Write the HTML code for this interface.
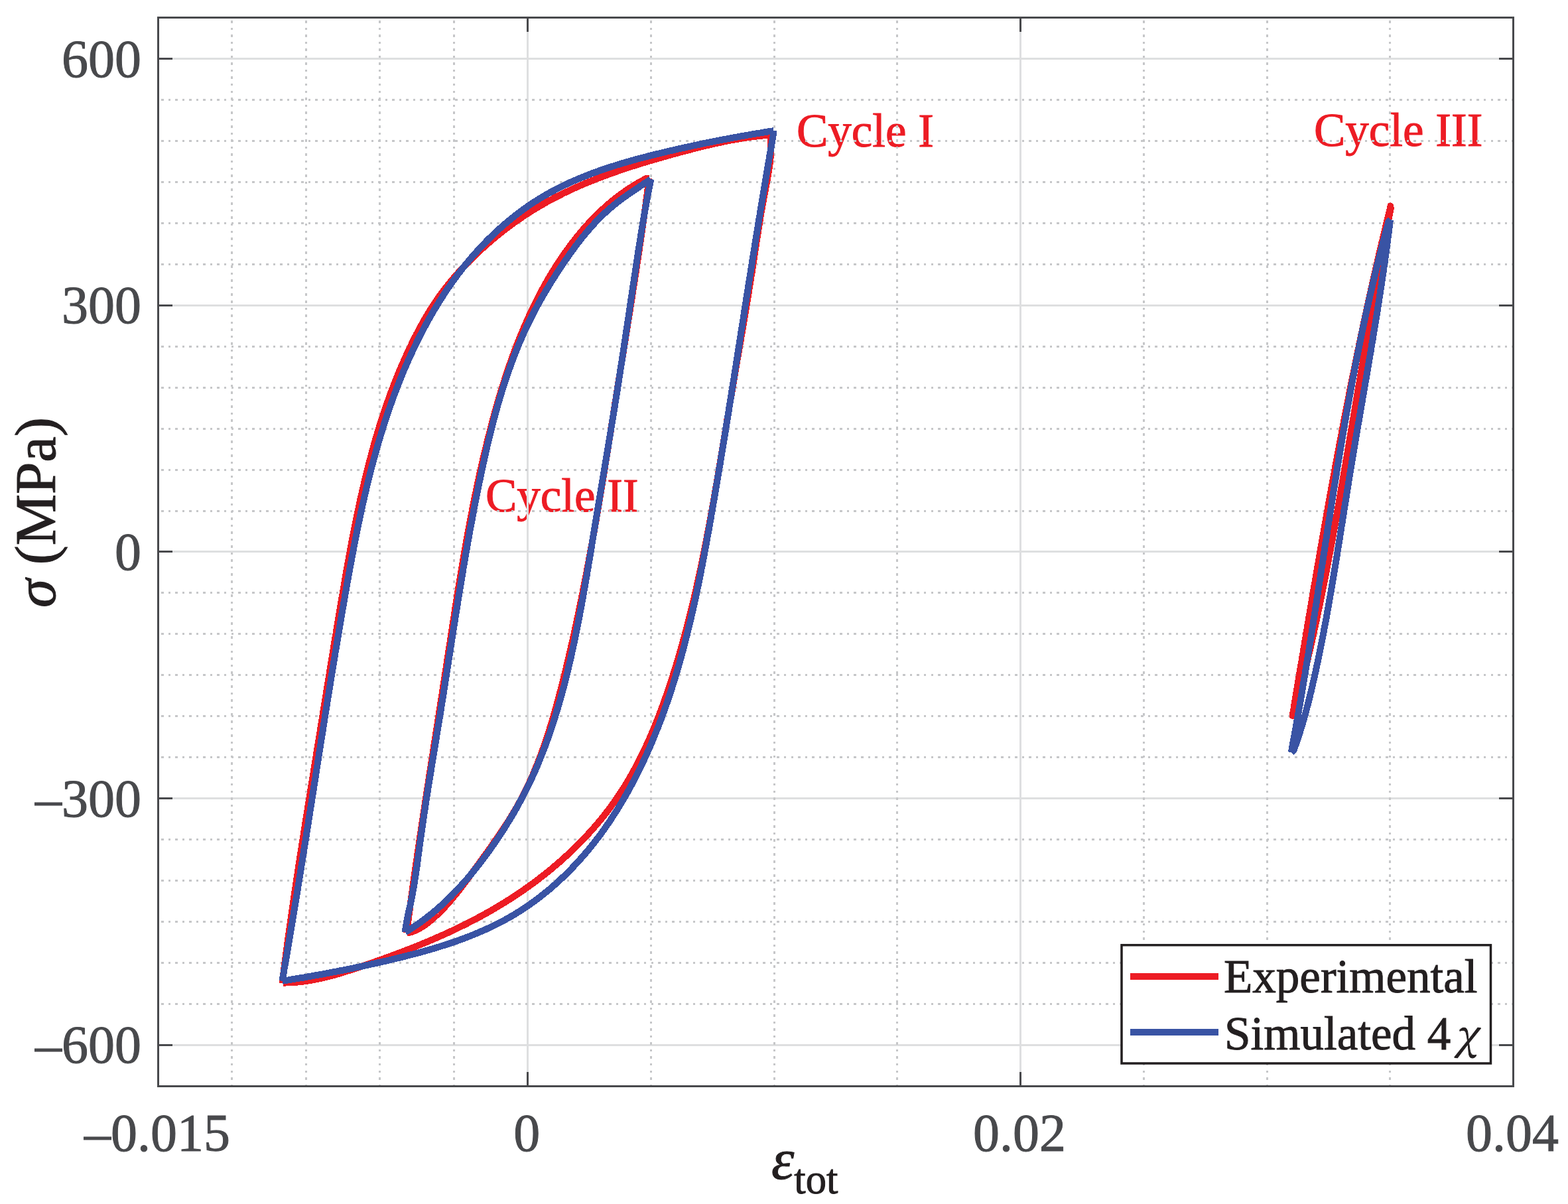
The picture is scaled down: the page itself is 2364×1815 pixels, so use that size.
<!DOCTYPE html>
<html><head><meta charset="utf-8"><title>Hysteresis loops</title>
<style>html,body{margin:0;padding:0;background:#fff;}svg{display:block;}</style>
</head><body><svg xmlns="http://www.w3.org/2000/svg" width="2364" height="1815" viewBox="0 0 2364 1815"><rect x="0" y="0" width="2364" height="1815" fill="#ffffff"/><g font-family="'Liberation Serif', 'Times New Roman', serif" stroke="#ed1c24" stroke-width="1.0"><text x="1201" y="220.8" font-size="71" fill="#ed1c24">Cycle I</text><text x="732" y="770.5" font-size="71" fill="#ed1c24">Cycle II</text><text x="1981" y="220.4" font-size="71" fill="#ed1c24">Cycle III</text></g><g shape-rendering="crispEdges"><line x1="240.0" y1="1575.40" x2="2280.0" y2="1575.40" stroke="#dedfe0" stroke-width="3"/><line x1="240.0" y1="1203.67" x2="2280.0" y2="1203.67" stroke="#dedfe0" stroke-width="3"/><line x1="240.0" y1="831.95" x2="2280.0" y2="831.95" stroke="#dedfe0" stroke-width="3"/><line x1="240.0" y1="460.23" x2="2280.0" y2="460.23" stroke="#dedfe0" stroke-width="3"/><line x1="240.0" y1="88.50" x2="2280.0" y2="88.50" stroke="#dedfe0" stroke-width="3"/><line x1="795.68" y1="28.0" x2="795.68" y2="1636.0" stroke="#dedfe0" stroke-width="3"/><line x1="1538.59" y1="28.0" x2="1538.59" y2="1636.0" stroke="#dedfe0" stroke-width="3"/><line x1="243.0" y1="1513.45" x2="2280.0" y2="1513.45" stroke="#c6c7c9" stroke-width="3" stroke-dasharray="3.5 7.05"/><line x1="243.0" y1="1451.49" x2="2280.0" y2="1451.49" stroke="#c6c7c9" stroke-width="3" stroke-dasharray="3.5 7.05"/><line x1="243.0" y1="1389.54" x2="2280.0" y2="1389.54" stroke="#c6c7c9" stroke-width="3" stroke-dasharray="3.5 7.05"/><line x1="243.0" y1="1327.58" x2="2280.0" y2="1327.58" stroke="#c6c7c9" stroke-width="3" stroke-dasharray="3.5 7.05"/><line x1="243.0" y1="1265.63" x2="2280.0" y2="1265.63" stroke="#c6c7c9" stroke-width="3" stroke-dasharray="3.5 7.05"/><line x1="243.0" y1="1141.72" x2="2280.0" y2="1141.72" stroke="#c6c7c9" stroke-width="3" stroke-dasharray="3.5 7.05"/><line x1="243.0" y1="1079.77" x2="2280.0" y2="1079.77" stroke="#c6c7c9" stroke-width="3" stroke-dasharray="3.5 7.05"/><line x1="243.0" y1="1017.81" x2="2280.0" y2="1017.81" stroke="#c6c7c9" stroke-width="3" stroke-dasharray="3.5 7.05"/><line x1="243.0" y1="955.86" x2="2280.0" y2="955.86" stroke="#c6c7c9" stroke-width="3" stroke-dasharray="3.5 7.05"/><line x1="243.0" y1="893.90" x2="2280.0" y2="893.90" stroke="#c6c7c9" stroke-width="3" stroke-dasharray="3.5 7.05"/><line x1="243.0" y1="770.00" x2="2280.0" y2="770.00" stroke="#c6c7c9" stroke-width="3" stroke-dasharray="3.5 7.05"/><line x1="243.0" y1="708.04" x2="2280.0" y2="708.04" stroke="#c6c7c9" stroke-width="3" stroke-dasharray="3.5 7.05"/><line x1="243.0" y1="646.09" x2="2280.0" y2="646.09" stroke="#c6c7c9" stroke-width="3" stroke-dasharray="3.5 7.05"/><line x1="243.0" y1="584.13" x2="2280.0" y2="584.13" stroke="#c6c7c9" stroke-width="3" stroke-dasharray="3.5 7.05"/><line x1="243.0" y1="522.18" x2="2280.0" y2="522.18" stroke="#c6c7c9" stroke-width="3" stroke-dasharray="3.5 7.05"/><line x1="243.0" y1="398.27" x2="2280.0" y2="398.27" stroke="#c6c7c9" stroke-width="3" stroke-dasharray="3.5 7.05"/><line x1="243.0" y1="336.32" x2="2280.0" y2="336.32" stroke="#c6c7c9" stroke-width="3" stroke-dasharray="3.5 7.05"/><line x1="243.0" y1="274.36" x2="2280.0" y2="274.36" stroke="#c6c7c9" stroke-width="3" stroke-dasharray="3.5 7.05"/><line x1="243.0" y1="212.41" x2="2280.0" y2="212.41" stroke="#c6c7c9" stroke-width="3" stroke-dasharray="3.5 7.05"/><line x1="243.0" y1="150.45" x2="2280.0" y2="150.45" stroke="#c6c7c9" stroke-width="3" stroke-dasharray="3.5 7.05"/><line x1="349.93" y1="31.0" x2="349.93" y2="1636.0" stroke="#c6c7c9" stroke-width="3" stroke-dasharray="3.5 7.05"/><line x1="461.37" y1="31.0" x2="461.37" y2="1636.0" stroke="#c6c7c9" stroke-width="3" stroke-dasharray="3.5 7.05"/><line x1="572.81" y1="31.0" x2="572.81" y2="1636.0" stroke="#c6c7c9" stroke-width="3" stroke-dasharray="3.5 7.05"/><line x1="684.24" y1="31.0" x2="684.24" y2="1636.0" stroke="#c6c7c9" stroke-width="3" stroke-dasharray="3.5 7.05"/><line x1="981.41" y1="31.0" x2="981.41" y2="1636.0" stroke="#c6c7c9" stroke-width="3" stroke-dasharray="3.5 7.05"/><line x1="1167.13" y1="31.0" x2="1167.13" y2="1636.0" stroke="#c6c7c9" stroke-width="3" stroke-dasharray="3.5 7.05"/><line x1="1352.86" y1="31.0" x2="1352.86" y2="1636.0" stroke="#c6c7c9" stroke-width="3" stroke-dasharray="3.5 7.05"/><line x1="1724.32" y1="31.0" x2="1724.32" y2="1636.0" stroke="#c6c7c9" stroke-width="3" stroke-dasharray="3.5 7.05"/><line x1="1910.04" y1="31.0" x2="1910.04" y2="1636.0" stroke="#c6c7c9" stroke-width="3" stroke-dasharray="3.5 7.05"/><line x1="2095.77" y1="31.0" x2="2095.77" y2="1636.0" stroke="#c6c7c9" stroke-width="3" stroke-dasharray="3.5 7.05"/></g><g shape-rendering="crispEdges"><path d="M426.5 1482.0 L426.0 1477.8 L426.5 1473.9 L427.0 1469.9 L427.5 1466.0 L428.0 1462.0 L428.5 1458.0 L429.0 1454.1 L429.6 1450.1 L430.1 1446.1 L430.6 1442.2 L431.1 1438.2 L431.7 1434.3 L432.2 1430.3 L432.8 1426.3 L433.3 1422.4 L433.8 1418.4 L434.4 1414.4 L434.9 1410.5 L435.5 1406.5 L436.0 1402.5 L436.6 1398.6 L437.2 1394.6 L437.7 1390.6 L438.3 1386.7 L438.8 1382.7 L439.4 1378.7 L440.0 1374.8 L440.6 1370.8 L441.1 1366.8 L441.7 1362.9 L442.3 1358.9 L442.9 1354.9 L443.5 1350.9 L444.0 1347.0 L444.6 1343.0 L445.2 1339.0 L445.8 1335.1 L446.4 1331.1 L447.0 1327.1 L447.6 1323.2 L448.2 1319.2 L448.8 1315.2 L449.4 1311.3 L450.0 1307.3 L450.6 1303.3 L451.2 1299.4 L451.8 1295.4 L452.4 1291.4 L453.1 1287.4 L453.7 1283.5 L454.3 1279.5 L454.9 1275.5 L455.5 1271.6 L456.1 1267.6 L456.8 1263.6 L457.4 1259.7 L458.0 1255.7 L458.6 1251.7 L459.3 1247.8 L459.9 1243.8 L460.5 1239.8 L461.1 1235.9 L461.8 1231.9 L462.4 1227.9 L463.0 1224.0 L463.7 1220.0 L464.3 1216.0 L464.9 1212.1 L465.6 1208.1 L466.2 1204.1 L466.8 1200.2 L467.5 1196.2 L468.1 1192.2 L468.7 1188.3 L469.4 1184.3 L470.0 1180.3 L470.6 1176.4 L471.3 1172.4 L471.9 1168.5 L472.6 1164.5 L473.2 1160.5 L473.8 1156.6 L474.5 1152.6 L475.1 1148.6 L475.8 1144.7 L476.4 1140.7 L477.0 1136.8 L477.7 1132.8 L478.3 1128.9 L479.0 1124.9 L479.6 1120.9 L480.2 1117.0 L480.9 1113.0 L481.5 1109.1 L482.2 1105.1 L482.8 1101.2 L483.4 1097.2 L484.1 1093.2 L484.7 1089.3 L485.3 1085.3 L486.0 1081.4 L486.6 1077.4 L487.2 1073.5 L487.9 1069.5 L488.5 1065.6 L489.2 1061.6 L489.8 1057.7 L490.4 1053.7 L491.1 1049.8 L491.7 1045.8 L492.3 1041.9 L493.0 1037.9 L493.6 1034.0 L494.2 1030.0 L494.9 1026.1 L495.5 1022.1 L496.2 1018.2 L496.8 1014.2 L497.4 1010.3 L498.1 1006.3 L498.7 1002.4 L499.4 998.4 L500.0 994.5 L500.6 990.5 L501.3 986.6 L501.9 982.6 L502.6 978.7 L503.2 974.7 L503.9 970.8 L504.5 966.8 L505.2 962.9 L505.8 958.9 L506.5 955.0 L507.1 951.0 L507.8 947.1 L508.4 943.1 L509.1 939.2 L509.7 935.2 L510.4 931.3 L511.1 927.3 L511.7 923.4 L512.4 919.4 L513.0 915.4 L513.7 911.5 L514.4 907.5 L515.0 903.6 L515.7 899.6 L516.4 895.7 L517.1 891.7 L517.7 887.7 L518.4 883.8 L519.1 879.8 L519.8 875.9 L520.5 871.9 L521.1 867.9 L521.8 864.0 L522.5 860.0 L523.2 856.1 L523.9 852.1 L524.6 848.1 L525.3 844.2 L526.1 840.2 L526.8 836.3 L527.5 832.3 L528.2 828.3 L529.0 824.4 L529.7 820.4 L530.4 816.5 L531.2 812.5 L531.9 808.6 L532.7 804.6 L533.5 800.7 L534.3 796.7 L535.0 792.8 L535.8 788.8 L536.6 784.9 L537.4 781.0 L538.2 777.0 L539.0 773.1 L539.9 769.1 L540.7 765.2 L541.5 761.3 L542.4 757.4 L543.2 753.4 L544.1 749.5 L545.0 745.6 L545.9 741.7 L546.8 737.8 L547.7 733.8 L548.6 729.9 L549.5 726.0 L550.4 722.1 L551.4 718.2 L552.3 714.3 L553.3 710.4 L554.3 706.5 L555.2 702.7 L556.2 698.8 L557.2 694.9 L558.3 691.0 L559.3 687.1 L560.3 683.3 L561.4 679.4 L562.4 675.6 L563.5 671.7 L564.6 667.8 L565.7 664.0 L566.8 660.2 L568.0 656.3 L569.1 652.5 L570.3 648.7 L571.4 644.8 L572.6 641.0 L573.8 637.2 L575.0 633.4 L576.2 629.6 L577.5 625.8 L578.7 622.0 L580.0 618.2 L581.3 614.4 L582.6 610.6 L583.9 606.9 L585.3 603.1 L586.6 599.3 L588.0 595.6 L589.3 591.8 L590.7 588.1 L592.2 584.4 L593.6 580.6 L595.0 576.9 L596.5 573.2 L598.0 569.5 L599.5 565.8 L601.0 562.1 L602.5 558.4 L604.1 554.7 L605.7 551.0 L607.3 547.4 L608.9 543.7 L610.5 540.0 L612.2 536.4 L613.8 532.7 L615.5 529.1 L617.2 525.5 L618.9 521.9 L620.7 518.3 L622.5 514.7 L624.3 511.1 L626.1 507.5 L627.9 503.9 L629.8 500.3 L631.6 496.8 L633.5 493.3 L635.5 489.7 L637.4 486.2 L639.4 482.7 L641.4 479.3 L643.5 475.8 L645.5 472.4 L647.6 469.0 L649.7 465.6 L651.9 462.2 L654.1 458.8 L656.3 455.5 L658.5 452.2 L660.8 448.9 L663.1 445.6 L665.5 442.4 L667.9 439.2 L670.3 436.0 L672.7 432.8 L675.2 429.7 L677.7 426.6 L680.3 423.5 L682.8 420.4 L685.4 417.4 L688.1 414.4 L690.7 411.4 L693.4 408.4 L696.1 405.5 L698.9 402.5 L701.6 399.6 L704.4 396.7 L707.2 393.9 L710.0 391.0 L712.9 388.2 L715.8 385.4 L718.7 382.6 L721.6 379.9 L724.5 377.1 L727.5 374.4 L730.5 371.7 L733.5 369.0 L736.5 366.4 L739.5 363.8 L742.6 361.2 L745.7 358.6 L748.8 356.0 L751.9 353.5 L755.0 351.0 L758.2 348.5 L761.3 346.0 L764.5 343.6 L767.8 341.2 L771.0 338.8 L774.2 336.4 L777.5 334.1 L780.8 331.8 L784.1 329.5 L787.4 327.2 L790.7 325.0 L794.1 322.8 L797.5 320.6 L800.8 318.5 L804.2 316.4 L807.7 314.3 L811.1 312.2 L814.5 310.2 L818.0 308.2 L821.5 306.2 L824.9 304.2 L828.5 302.3 L832.0 300.4 L835.5 298.5 L839.0 296.7 L842.6 294.9 L846.2 293.1 L849.7 291.3 L853.3 289.6 L857.0 287.9 L860.6 286.2 L864.2 284.5 L867.8 282.8 L871.5 281.2 L875.2 279.6 L878.8 278.0 L882.5 276.5 L886.2 274.9 L889.9 273.4 L893.6 271.9 L897.3 270.5 L901.1 269.0 L904.8 267.6 L908.6 266.1 L912.3 264.7 L916.1 263.4 L919.8 262.0 L923.6 260.6 L927.4 259.3 L931.2 258.0 L935.0 256.7 L938.8 255.4 L942.6 254.1 L946.4 252.9 L950.2 251.6 L954.1 250.4 L957.9 249.2 L961.7 248.0 L965.6 246.8 L969.4 245.6 L973.3 244.4 L977.1 243.3 L981.0 242.1 L984.8 241.0 L988.7 239.9 L992.6 238.8 L996.4 237.7 L1000.3 236.6 L1004.2 235.5 L1008.0 234.4 L1011.9 233.3 L1015.8 232.2 L1019.6 231.2 L1023.5 230.1 L1027.4 229.1 L1031.3 228.0 L1035.1 227.0 L1039.0 226.0 L1042.9 225.0 L1046.8 224.0 L1050.7 223.0 L1054.5 222.0 L1058.4 221.0 L1062.3 220.1 L1066.2 219.2 L1070.1 218.2 L1074.0 217.3 L1077.9 216.5 L1081.8 215.6 L1085.7 214.8 L1089.6 213.9 L1093.6 213.1 L1097.5 212.4 L1101.4 211.6 L1105.3 210.9 L1109.3 210.2 L1113.2 209.5 L1117.2 208.8 L1121.1 208.2 L1125.1 207.6 L1129.0 207.0 L1133.0 206.5 L1137.0 206.0 L1141.0 205.5 L1145.0 205.1 L1149.0 204.6 L1153.0 204.3 L1157.0 203.9 L1161.0 204.0 M1161.0 204.0 L1161.9 208.0 L1162.2 212.0 L1162.4 216.0 L1162.4 220.0 L1162.4 224.0 L1162.3 228.0 L1162.1 232.0 L1161.8 236.0 L1161.4 239.9 L1161.0 243.9 L1160.5 247.9 L1159.9 251.8 L1159.3 255.8 L1158.7 259.8 L1158.0 263.7 L1157.4 267.7 L1156.6 271.6 L1155.9 275.6 L1155.2 279.5 L1154.4 283.5 L1153.7 287.4 L1152.9 291.4 L1152.1 295.4 L1151.4 299.3 L1150.7 303.3 L1149.9 307.2 L1149.2 311.2 L1148.5 315.2 L1147.8 319.1 L1147.2 323.1 L1146.5 327.1 L1145.9 331.1 L1145.2 335.0 L1144.6 339.0 L1143.9 343.0 L1143.3 346.9 L1142.7 350.9 L1142.1 354.9 L1141.5 358.9 L1140.8 362.9 L1140.2 366.8 L1139.6 370.8 L1139.0 374.8 L1138.4 378.8 L1137.8 382.7 L1137.2 386.7 L1136.6 390.7 L1136.0 394.7 L1135.4 398.6 L1134.8 402.6 L1134.2 406.6 L1133.6 410.6 L1132.9 414.5 L1132.3 418.5 L1131.7 422.5 L1131.1 426.4 L1130.4 430.4 L1129.8 434.4 L1129.1 438.3 L1128.5 442.3 L1127.9 446.3 L1127.2 450.2 L1126.6 454.2 L1125.9 458.2 L1125.2 462.1 L1124.6 466.1 L1123.9 470.0 L1123.3 474.0 L1122.6 478.0 L1121.9 481.9 L1121.3 485.9 L1120.6 489.9 L1119.9 493.8 L1119.3 497.8 L1118.6 501.7 L1117.9 505.7 L1117.2 509.6 L1116.6 513.6 L1115.9 517.6 L1115.2 521.5 L1114.5 525.5 L1113.9 529.4 L1113.2 533.4 L1112.5 537.4 L1111.8 541.3 L1111.1 545.3 L1110.5 549.2 L1109.8 553.2 L1109.1 557.2 L1108.4 561.1 L1107.8 565.1 L1107.1 569.0 L1106.4 573.0 L1105.7 577.0 L1105.1 580.9 L1104.4 584.9 L1103.7 588.9 L1103.1 592.8 L1102.4 596.8 L1101.7 600.7 L1101.1 604.7 L1100.4 608.7 L1099.7 612.6 L1099.1 616.6 L1098.4 620.6 L1097.8 624.5 L1097.1 628.5 L1096.4 632.5 L1095.8 636.4 L1095.1 640.4 L1094.5 644.4 L1093.8 648.3 L1093.2 652.3 L1092.5 656.3 L1091.9 660.3 L1091.2 664.2 L1090.6 668.2 L1089.9 672.2 L1089.2 676.1 L1088.6 680.1 L1087.9 684.1 L1087.3 688.0 L1086.6 692.0 L1085.9 696.0 L1085.3 699.9 L1084.6 703.9 L1084.0 707.9 L1083.3 711.8 L1082.6 715.8 L1081.9 719.8 L1081.3 723.7 L1080.6 727.7 L1079.9 731.7 L1079.2 735.6 L1078.5 739.6 L1077.8 743.6 L1077.2 747.5 L1076.5 751.5 L1075.8 755.4 L1075.1 759.4 L1074.4 763.4 L1073.7 767.3 L1072.9 771.3 L1072.2 775.2 L1071.5 779.2 L1070.8 783.2 L1070.1 787.1 L1069.3 791.1 L1068.6 795.0 L1067.8 799.0 L1067.1 802.9 L1066.3 806.9 L1065.6 810.8 L1064.8 814.8 L1064.1 818.7 L1063.3 822.6 L1062.5 826.6 L1061.7 830.5 L1060.9 834.5 L1060.1 838.4 L1059.3 842.3 L1058.5 846.3 L1057.7 850.2 L1056.9 854.1 L1056.1 858.1 L1055.2 862.0 L1054.4 865.9 L1053.5 869.9 L1052.7 873.8 L1051.8 877.7 L1050.9 881.6 L1050.1 885.5 L1049.2 889.5 L1048.3 893.4 L1047.4 897.3 L1046.5 901.2 L1045.5 905.1 L1044.6 909.0 L1043.7 912.9 L1042.7 916.8 L1041.8 920.7 L1040.8 924.6 L1039.9 928.5 L1038.9 932.4 L1037.9 936.3 L1036.9 940.2 L1035.9 944.1 L1034.9 948.0 L1033.8 951.9 L1032.8 955.7 L1031.8 959.6 L1030.7 963.5 L1029.6 967.4 L1028.6 971.2 L1027.5 975.1 L1026.4 979.0 L1025.3 982.8 L1024.1 986.7 L1023.0 990.6 L1021.9 994.4 L1020.7 998.3 L1019.6 1002.1 L1018.4 1006.0 L1017.2 1009.8 L1016.0 1013.7 L1014.8 1017.5 L1013.6 1021.3 L1012.3 1025.2 L1011.1 1029.0 L1009.8 1032.8 L1008.5 1036.6 L1007.2 1040.5 L1005.9 1044.3 L1004.6 1048.1 L1003.3 1051.9 L1002.0 1055.7 L1000.6 1059.5 L999.2 1063.3 L997.8 1067.1 L996.4 1070.8 L995.0 1074.6 L993.6 1078.4 L992.1 1082.1 L990.7 1085.9 L989.2 1089.6 L987.7 1093.4 L986.1 1097.1 L984.6 1100.8 L983.0 1104.5 L981.4 1108.2 L979.8 1111.9 L978.2 1115.6 L976.6 1119.2 L974.9 1122.9 L973.2 1126.5 L971.5 1130.2 L969.8 1133.8 L968.0 1137.4 L966.3 1141.0 L964.5 1144.6 L962.6 1148.1 L960.8 1151.7 L958.9 1155.2 L957.0 1158.8 L955.1 1162.3 L953.2 1165.8 L951.2 1169.2 L949.2 1172.7 L947.2 1176.2 L945.1 1179.6 L943.1 1183.0 L941.0 1186.4 L938.8 1189.8 L936.7 1193.2 L934.5 1196.5 L932.3 1199.8 L930.0 1203.1 L927.8 1206.4 L925.5 1209.7 L923.1 1213.0 L920.8 1216.2 L918.4 1219.4 L916.0 1222.6 L913.5 1225.8 L911.0 1228.9 L908.5 1232.1 L906.0 1235.2 L903.5 1238.3 L900.9 1241.3 L898.3 1244.4 L895.7 1247.4 L893.0 1250.5 L890.3 1253.5 L887.6 1256.4 L884.9 1259.4 L882.2 1262.3 L879.4 1265.2 L876.6 1268.1 L873.8 1271.0 L870.9 1273.9 L868.1 1276.7 L865.2 1279.5 L862.3 1282.3 L859.3 1285.1 L856.4 1287.9 L853.4 1290.6 L850.4 1293.3 L847.4 1296.0 L844.4 1298.7 L841.4 1301.4 L838.3 1304.0 L835.2 1306.6 L832.1 1309.2 L829.0 1311.8 L825.8 1314.3 L822.7 1316.9 L819.5 1319.4 L816.3 1321.9 L813.1 1324.3 L809.9 1326.8 L806.7 1329.2 L803.4 1331.6 L800.1 1334.0 L796.9 1336.4 L793.6 1338.7 L790.3 1341.0 L786.9 1343.3 L783.6 1345.6 L780.3 1347.9 L776.9 1350.1 L773.5 1352.3 L770.1 1354.5 L766.7 1356.7 L763.3 1358.8 L759.9 1361.0 L756.5 1363.1 L753.0 1365.1 L749.6 1367.2 L746.1 1369.3 L742.7 1371.3 L739.2 1373.3 L735.7 1375.3 L732.2 1377.2 L728.7 1379.2 L725.2 1381.1 L721.6 1383.0 L718.1 1384.9 L714.5 1386.8 L711.0 1388.6 L707.4 1390.4 L703.8 1392.3 L700.3 1394.1 L696.7 1395.8 L693.1 1397.6 L689.5 1399.3 L685.9 1401.1 L682.2 1402.8 L678.6 1404.5 L675.0 1406.2 L671.3 1407.8 L667.7 1409.5 L664.0 1411.1 L660.4 1412.7 L656.7 1414.3 L653.0 1415.9 L649.3 1417.5 L645.6 1419.1 L641.9 1420.6 L638.2 1422.2 L634.5 1423.7 L630.8 1425.2 L627.1 1426.7 L623.4 1428.2 L619.6 1429.7 L615.9 1431.1 L612.1 1432.6 L608.4 1434.0 L604.6 1435.5 L600.9 1436.9 L597.1 1438.3 L593.4 1439.7 L589.6 1441.1 L585.8 1442.5 L582.0 1443.9 L578.3 1445.2 L574.5 1446.6 L570.7 1447.9 L566.9 1449.3 L563.1 1450.6 L559.3 1451.9 L555.5 1453.2 L551.7 1454.5 L547.9 1455.8 L544.1 1457.1 L540.2 1458.4 L536.4 1459.7 L532.6 1461.0 L528.8 1462.2 L525.0 1463.4 L521.1 1464.7 L517.3 1465.8 L513.4 1467.0 L509.6 1468.2 L505.7 1469.3 L501.9 1470.3 L498.0 1471.4 L494.1 1472.4 L490.2 1473.4 L486.3 1474.3 L482.4 1475.2 L478.5 1476.0 L474.5 1476.8 L470.6 1477.5 L466.6 1478.2 L462.7 1478.8 L458.7 1479.4 L454.7 1479.9 L450.7 1480.3 L446.7 1480.7 L442.6 1481.0 L438.6 1481.2 L434.5 1481.4 L430.4 1481.5 L426.5 1482.0" fill="none" stroke="#ed1c24" stroke-width="10" stroke-linejoin="bevel" stroke-linecap="butt"/><path d="M613.5 1406.0 L613.6 1401.9 L614.1 1398.0 L614.6 1394.0 L615.2 1390.0 L615.7 1386.1 L616.2 1382.1 L616.7 1378.1 L617.3 1374.2 L617.8 1370.2 L618.3 1366.2 L618.9 1362.3 L619.4 1358.3 L620.0 1354.3 L620.5 1350.4 L621.0 1346.4 L621.6 1342.4 L622.1 1338.5 L622.7 1334.5 L623.3 1330.5 L623.8 1326.6 L624.4 1322.6 L624.9 1318.6 L625.5 1314.7 L626.1 1310.7 L626.6 1306.7 L627.2 1302.8 L627.8 1298.8 L628.4 1294.8 L628.9 1290.8 L629.5 1286.9 L630.1 1282.9 L630.7 1278.9 L631.3 1275.0 L631.9 1271.0 L632.4 1267.0 L633.0 1263.1 L633.6 1259.1 L634.2 1255.1 L634.8 1251.2 L635.4 1247.2 L636.0 1243.2 L636.6 1239.2 L637.2 1235.3 L637.8 1231.3 L638.4 1227.3 L639.0 1223.4 L639.6 1219.4 L640.2 1215.4 L640.8 1211.5 L641.4 1207.5 L642.0 1203.5 L642.6 1199.5 L643.2 1195.6 L643.9 1191.6 L644.5 1187.6 L645.1 1183.7 L645.7 1179.7 L646.3 1175.7 L646.9 1171.8 L647.5 1167.8 L648.2 1163.8 L648.8 1159.8 L649.4 1155.9 L650.0 1151.9 L650.6 1147.9 L651.2 1144.0 L651.9 1140.0 L652.5 1136.0 L653.1 1132.1 L653.7 1128.1 L654.3 1124.1 L655.0 1120.1 L655.6 1116.2 L656.2 1112.2 L656.8 1108.2 L657.4 1104.3 L658.1 1100.3 L658.7 1096.3 L659.3 1092.4 L659.9 1088.4 L660.5 1084.4 L661.2 1080.4 L661.8 1076.5 L662.4 1072.5 L663.0 1068.5 L663.6 1064.6 L664.2 1060.6 L664.9 1056.6 L665.5 1052.7 L666.1 1048.7 L666.7 1044.7 L667.3 1040.8 L667.9 1036.8 L668.5 1032.8 L669.2 1028.9 L669.8 1024.9 L670.4 1020.9 L671.0 1017.0 L671.6 1013.0 L672.2 1009.0 L672.8 1005.1 L673.4 1001.1 L674.0 997.1 L674.6 993.2 L675.2 989.2 L675.8 985.2 L676.4 981.3 L677.0 977.3 L677.7 973.3 L678.3 969.4 L678.9 965.4 L679.5 961.4 L680.1 957.5 L680.7 953.5 L681.3 949.5 L681.9 945.6 L682.5 941.6 L683.1 937.7 L683.7 933.7 L684.4 929.7 L685.0 925.8 L685.6 921.8 L686.2 917.8 L686.8 913.9 L687.5 909.9 L688.1 906.0 L688.7 902.0 L689.3 898.1 L690.0 894.1 L690.6 890.1 L691.2 886.2 L691.9 882.2 L692.5 878.3 L693.2 874.3 L693.8 870.4 L694.5 866.4 L695.1 862.5 L695.8 858.5 L696.4 854.6 L697.1 850.6 L697.8 846.7 L698.4 842.7 L699.1 838.8 L699.8 834.8 L700.5 830.9 L701.2 826.9 L701.9 823.0 L702.6 819.0 L703.3 815.1 L704.0 811.1 L704.7 807.2 L705.4 803.3 L706.1 799.3 L706.9 795.4 L707.6 791.4 L708.3 787.5 L709.1 783.6 L709.8 779.6 L710.6 775.7 L711.4 771.8 L712.1 767.8 L712.9 763.9 L713.7 760.0 L714.5 756.0 L715.3 752.1 L716.0 748.2 L716.9 744.2 L717.7 740.3 L718.5 736.4 L719.3 732.5 L720.1 728.5 L721.0 724.6 L721.8 720.7 L722.7 716.8 L723.5 712.9 L724.4 708.9 L725.3 705.0 L726.2 701.1 L727.1 697.2 L728.0 693.3 L728.9 689.4 L729.8 685.5 L730.7 681.5 L731.7 677.6 L732.6 673.7 L733.6 669.8 L734.5 665.9 L735.5 662.0 L736.5 658.1 L737.5 654.2 L738.5 650.3 L739.5 646.4 L740.5 642.5 L741.5 638.6 L742.5 634.7 L743.6 630.8 L744.6 626.9 L745.7 623.0 L746.8 619.2 L747.9 615.3 L749.0 611.4 L750.1 607.5 L751.2 603.7 L752.3 599.8 L753.5 595.9 L754.7 592.1 L755.8 588.2 L757.0 584.3 L758.2 580.5 L759.4 576.7 L760.7 572.8 L761.9 569.0 L763.2 565.1 L764.4 561.3 L765.7 557.5 L767.0 553.7 L768.3 549.9 L769.6 546.1 L771.0 542.3 L772.4 538.5 L773.7 534.7 L775.1 531.0 L776.5 527.2 L778.0 523.4 L779.4 519.7 L780.9 516.0 L782.3 512.2 L783.8 508.5 L785.4 504.8 L786.9 501.1 L788.4 497.4 L790.0 493.7 L791.6 490.0 L793.2 486.3 L794.8 482.7 L796.5 479.0 L798.1 475.4 L799.8 471.7 L801.5 468.1 L803.2 464.5 L805.0 460.9 L806.8 457.3 L808.5 453.7 L810.4 450.2 L812.2 446.6 L814.0 443.1 L815.9 439.6 L817.8 436.0 L819.7 432.5 L821.7 429.0 L823.6 425.6 L825.6 422.1 L827.6 418.6 L829.7 415.2 L831.7 411.8 L833.8 408.4 L835.9 405.0 L838.1 401.6 L840.2 398.2 L842.4 394.9 L844.6 391.5 L846.9 388.2 L849.1 384.9 L851.4 381.6 L853.7 378.3 L856.1 375.1 L858.4 371.9 L860.8 368.6 L863.2 365.4 L865.7 362.3 L868.2 359.1 L870.7 356.0 L873.2 352.9 L875.8 349.8 L878.4 346.8 L881.0 343.8 L883.6 340.8 L886.3 337.8 L889.0 334.9 L891.8 332.0 L894.5 329.1 L897.3 326.2 L900.2 323.4 L903.0 320.6 L905.9 317.9 L908.8 315.2 L911.8 312.5 L914.8 309.8 L917.8 307.2 L920.9 304.6 L924.0 302.1 L927.1 299.6 L930.2 297.1 L933.4 294.7 L936.6 292.3 L939.9 290.0 L943.2 287.7 L946.5 285.4 L949.9 283.2 L953.3 281.1 L956.7 278.9 L960.2 276.8 L963.7 274.8 L967.2 272.8 L970.8 270.9 L974.4 269.0 L978.5 269.0 M978.5 269.0 L978.1 273.0 L977.6 277.0 L977.1 280.9 L976.6 284.9 L976.0 288.9 L975.5 292.9 L975.0 296.9 L974.4 300.8 L973.9 304.8 L973.4 308.8 L972.8 312.8 L972.3 316.7 L971.7 320.7 L971.2 324.7 L970.6 328.7 L970.1 332.6 L969.5 336.6 L968.9 340.6 L968.4 344.5 L967.8 348.5 L967.2 352.5 L966.7 356.5 L966.1 360.4 L965.5 364.4 L964.9 368.4 L964.3 372.3 L963.8 376.3 L963.2 380.3 L962.6 384.3 L962.0 388.2 L961.4 392.2 L960.8 396.2 L960.2 400.1 L959.6 404.1 L959.0 408.1 L958.4 412.0 L957.8 416.0 L957.2 420.0 L956.6 423.9 L956.0 427.9 L955.3 431.9 L954.7 435.8 L954.1 439.8 L953.5 443.8 L952.9 447.7 L952.3 451.7 L951.6 455.7 L951.0 459.6 L950.4 463.6 L949.8 467.6 L949.2 471.5 L948.5 475.5 L947.9 479.5 L947.3 483.4 L946.6 487.4 L946.0 491.4 L945.4 495.3 L944.8 499.3 L944.1 503.3 L943.5 507.2 L942.9 511.2 L942.2 515.1 L941.6 519.1 L941.0 523.1 L940.3 527.0 L939.7 531.0 L939.0 535.0 L938.4 538.9 L937.8 542.9 L937.1 546.9 L936.5 550.8 L935.9 554.8 L935.2 558.8 L934.6 562.7 L934.0 566.7 L933.3 570.7 L932.7 574.6 L932.1 578.6 L931.4 582.5 L930.8 586.5 L930.2 590.5 L929.5 594.4 L928.9 598.4 L928.3 602.4 L927.6 606.3 L927.0 610.3 L926.4 614.3 L925.8 618.2 L925.1 622.2 L924.5 626.2 L923.9 630.1 L923.2 634.1 L922.6 638.1 L922.0 642.0 L921.3 646.0 L920.7 650.0 L920.1 653.9 L919.4 657.9 L918.8 661.9 L918.2 665.8 L917.5 669.8 L916.9 673.8 L916.3 677.7 L915.6 681.7 L915.0 685.6 L914.4 689.6 L913.7 693.6 L913.1 697.5 L912.4 701.5 L911.8 705.5 L911.2 709.4 L910.5 713.4 L909.9 717.4 L909.2 721.3 L908.6 725.3 L907.9 729.2 L907.3 733.2 L906.6 737.2 L905.9 741.1 L905.3 745.1 L904.6 749.0 L904.0 753.0 L903.3 757.0 L902.6 760.9 L902.0 764.9 L901.3 768.8 L900.6 772.8 L899.9 776.7 L899.2 780.7 L898.6 784.7 L897.9 788.6 L897.2 792.6 L896.5 796.5 L895.8 800.5 L895.1 804.4 L894.4 808.4 L893.7 812.3 L893.0 816.3 L892.3 820.2 L891.6 824.2 L890.8 828.1 L890.1 832.1 L889.4 836.0 L888.7 840.0 L887.9 843.9 L887.2 847.9 L886.5 851.8 L885.7 855.8 L885.0 859.7 L884.2 863.7 L883.5 867.6 L882.7 871.5 L882.0 875.5 L881.2 879.4 L880.4 883.4 L879.6 887.3 L878.9 891.2 L878.1 895.2 L877.3 899.1 L876.5 903.1 L875.7 907.0 L874.9 910.9 L874.1 914.9 L873.3 918.8 L872.5 922.7 L871.6 926.6 L870.8 930.6 L870.0 934.5 L869.1 938.4 L868.3 942.4 L867.4 946.3 L866.6 950.2 L865.7 954.1 L864.9 958.1 L864.0 962.0 L863.1 965.9 L862.2 969.8 L861.3 973.7 L860.4 977.7 L859.5 981.6 L858.6 985.5 L857.7 989.4 L856.8 993.3 L855.9 997.2 L854.9 1001.1 L854.0 1005.0 L853.1 1008.9 L852.1 1012.9 L851.2 1016.8 L850.2 1020.7 L849.2 1024.6 L848.2 1028.5 L847.3 1032.4 L846.3 1036.3 L845.3 1040.2 L844.2 1044.1 L843.2 1048.0 L842.2 1051.8 L841.2 1055.7 L840.1 1059.6 L839.0 1063.5 L838.0 1067.4 L836.9 1071.2 L835.8 1075.1 L834.7 1079.0 L833.6 1082.8 L832.4 1086.7 L831.3 1090.5 L830.1 1094.3 L828.9 1098.2 L827.7 1102.0 L826.5 1105.8 L825.2 1109.6 L824.0 1113.4 L822.7 1117.2 L821.4 1121.0 L820.1 1124.8 L818.8 1128.6 L817.4 1132.4 L816.0 1136.1 L814.7 1139.9 L813.2 1143.6 L811.8 1147.3 L810.3 1151.0 L808.8 1154.8 L807.3 1158.4 L805.8 1162.1 L804.2 1165.8 L802.7 1169.5 L801.0 1173.1 L799.4 1176.8 L797.7 1180.4 L796.0 1184.0 L794.3 1187.6 L792.6 1191.2 L790.8 1194.8 L789.0 1198.3 L787.2 1201.9 L785.3 1205.4 L783.4 1208.9 L781.5 1212.4 L779.5 1215.9 L777.5 1219.4 L775.5 1222.9 L773.4 1226.3 L771.3 1229.8 L769.2 1233.2 L767.1 1236.6 L765.0 1240.0 L762.8 1243.4 L760.6 1246.8 L758.4 1250.1 L756.1 1253.5 L753.9 1256.8 L751.6 1260.2 L749.3 1263.5 L747.0 1266.8 L744.7 1270.2 L742.4 1273.5 L740.1 1276.8 L737.7 1280.1 L735.4 1283.4 L733.0 1286.7 L730.6 1289.9 L728.3 1293.2 L725.9 1296.5 L723.5 1299.8 L721.2 1303.0 L718.8 1306.3 L716.4 1309.6 L714.0 1312.8 L711.7 1316.1 L709.3 1319.3 L706.9 1322.6 L704.5 1325.8 L702.1 1329.0 L699.7 1332.2 L697.3 1335.4 L694.8 1338.6 L692.3 1341.8 L689.9 1344.9 L687.4 1348.0 L684.8 1351.1 L682.3 1354.2 L679.7 1357.2 L677.1 1360.2 L674.4 1363.2 L671.7 1366.2 L669.0 1369.1 L666.2 1371.9 L663.4 1374.8 L660.6 1377.6 L657.7 1380.3 L654.7 1383.0 L651.7 1385.7 L648.7 1388.3 L645.6 1390.8 L642.4 1393.2 L639.1 1395.5 L635.8 1397.7 L632.4 1399.7 L628.8 1401.5 L625.2 1403.2 L621.5 1404.6 L617.7 1405.8 L613.5 1406.0" fill="none" stroke="#ed1c24" stroke-width="10" stroke-linejoin="bevel" stroke-linecap="butt"/><path d="M1948.7 1079.0 L1949.3 1075.0 L1950.0 1071.0 L1950.7 1067.0 L1951.3 1063.1 L1952.0 1059.1 L1952.6 1055.1 L1953.3 1051.1 L1954.0 1047.1 L1954.6 1043.2 L1955.3 1039.2 L1955.9 1035.2 L1956.6 1031.2 L1957.3 1027.2 L1957.9 1023.3 L1958.6 1019.3 L1959.3 1015.3 L1959.9 1011.3 L1960.6 1007.3 L1961.2 1003.4 L1961.9 999.4 L1962.6 995.4 L1963.2 991.4 L1963.9 987.5 L1964.6 983.5 L1965.2 979.5 L1965.9 975.5 L1966.6 971.5 L1967.2 967.6 L1967.9 963.6 L1968.6 959.6 L1969.2 955.6 L1969.9 951.6 L1970.6 947.7 L1971.2 943.7 L1971.9 939.7 L1972.6 935.7 L1973.2 931.7 L1973.9 927.8 L1974.6 923.8 L1975.2 919.8 L1975.9 915.8 L1976.6 911.8 L1977.3 907.9 L1977.9 903.9 L1978.6 899.9 L1979.3 895.9 L1980.0 892.0 L1980.6 888.0 L1981.3 884.0 L1982.0 880.0 L1982.7 876.0 L1983.4 872.1 L1984.0 868.1 L1984.7 864.1 L1985.4 860.1 L1986.1 856.2 L1986.8 852.2 L1987.5 848.2 L1988.2 844.2 L1988.8 840.2 L1989.5 836.3 L1990.2 832.3 L1990.9 828.3 L1991.6 824.3 L1992.3 820.4 L1993.0 816.4 L1993.7 812.4 L1994.4 808.4 L1995.1 804.5 L1995.8 800.5 L1996.5 796.5 L1997.2 792.5 L1997.9 788.6 L1998.6 784.6 L1999.3 780.6 L2000.0 776.7 L2000.7 772.7 L2001.4 768.7 L2002.1 764.7 L2002.8 760.8 L2003.5 756.8 L2004.2 752.8 L2005.0 748.9 L2005.7 744.9 L2006.4 740.9 L2007.1 736.9 L2007.8 733.0 L2008.6 729.0 L2009.3 725.0 L2010.0 721.1 L2010.7 717.1 L2011.5 713.1 L2012.2 709.2 L2012.9 705.2 L2013.6 701.2 L2014.4 697.3 L2015.1 693.3 L2015.8 689.3 L2016.6 685.4 L2017.3 681.4 L2018.1 677.4 L2018.8 673.5 L2019.6 669.5 L2020.3 665.5 L2021.1 661.6 L2021.8 657.6 L2022.6 653.6 L2023.3 649.7 L2024.1 645.7 L2024.8 641.7 L2025.6 637.8 L2026.3 633.8 L2027.1 629.9 L2027.9 625.9 L2028.6 621.9 L2029.4 618.0 L2030.2 614.0 L2031.0 610.1 L2031.7 606.1 L2032.5 602.1 L2033.3 598.2 L2034.1 594.2 L2034.8 590.3 L2035.6 586.3 L2036.4 582.3 L2037.2 578.4 L2038.0 574.4 L2038.8 570.5 L2039.6 566.5 L2040.4 562.6 L2041.2 558.6 L2042.0 554.7 L2042.8 550.7 L2043.6 546.8 L2044.4 542.8 L2045.2 538.9 L2046.0 534.9 L2046.8 531.0 L2047.7 527.0 L2048.5 523.1 L2049.3 519.1 L2050.1 515.2 L2051.0 511.2 L2051.8 507.3 L2052.6 503.3 L2053.5 499.4 L2054.3 495.4 L2055.1 491.5 L2056.0 487.5 L2056.8 483.6 L2057.7 479.6 L2058.5 475.7 L2059.4 471.7 L2060.2 467.8 L2061.1 463.9 L2062.0 459.9 L2062.8 456.0 L2063.7 452.0 L2064.5 448.1 L2065.4 444.2 L2066.3 440.2 L2067.2 436.3 L2068.1 432.3 L2068.9 428.4 L2069.8 424.5 L2070.7 420.5 L2071.6 416.6 L2072.5 412.7 L2073.4 408.7 L2074.3 404.8 L2075.2 400.9 L2076.1 396.9 L2077.0 393.0 L2077.9 389.1 L2078.8 385.1 L2079.7 381.2 L2080.7 377.3 L2081.6 373.3 L2082.5 369.4 L2083.4 365.5 L2084.4 361.6 L2085.3 357.6 L2086.2 353.7 L2087.2 349.8 L2088.1 345.9 L2089.1 341.9 L2090.0 338.0 L2091.0 334.1 L2091.9 330.2 L2092.9 326.3 L2093.9 322.3 L2094.8 318.4 L2095.8 314.5 L2096.4 310.5 M2096.4 310.5 L2096.7 314.7 L2095.9 318.6 L2095.2 322.6 L2094.4 326.5 L2093.6 330.5 L2092.9 334.5 L2092.1 338.4 L2091.4 342.4 L2090.6 346.4 L2089.9 350.3 L2089.1 354.3 L2088.4 358.3 L2087.6 362.2 L2086.9 366.2 L2086.1 370.2 L2085.4 374.1 L2084.6 378.1 L2083.9 382.1 L2083.2 386.0 L2082.4 390.0 L2081.7 394.0 L2081.0 397.9 L2080.2 401.9 L2079.5 405.9 L2078.8 409.8 L2078.1 413.8 L2077.3 417.8 L2076.6 421.7 L2075.9 425.7 L2075.2 429.7 L2074.4 433.7 L2073.7 437.6 L2073.0 441.6 L2072.3 445.6 L2071.6 449.5 L2070.9 453.5 L2070.2 457.5 L2069.5 461.5 L2068.8 465.4 L2068.0 469.4 L2067.3 473.4 L2066.6 477.4 L2065.9 481.3 L2065.2 485.3 L2064.5 489.3 L2063.8 493.3 L2063.1 497.2 L2062.4 501.2 L2061.7 505.2 L2061.1 509.2 L2060.4 513.1 L2059.7 517.1 L2059.0 521.1 L2058.3 525.1 L2057.6 529.1 L2056.9 533.0 L2056.2 537.0 L2055.5 541.0 L2054.8 545.0 L2054.2 548.9 L2053.5 552.9 L2052.8 556.9 L2052.1 560.9 L2051.4 564.9 L2050.7 568.8 L2050.1 572.8 L2049.4 576.8 L2048.7 580.8 L2048.0 584.8 L2047.3 588.7 L2046.7 592.7 L2046.0 596.7 L2045.3 600.7 L2044.6 604.7 L2044.0 608.6 L2043.3 612.6 L2042.6 616.6 L2041.9 620.6 L2041.3 624.6 L2040.6 628.5 L2039.9 632.5 L2039.2 636.5 L2038.6 640.5 L2037.9 644.5 L2037.2 648.4 L2036.5 652.4 L2035.9 656.4 L2035.2 660.4 L2034.5 664.4 L2033.8 668.3 L2033.2 672.3 L2032.5 676.3 L2031.8 680.3 L2031.2 684.3 L2030.5 688.2 L2029.8 692.2 L2029.1 696.2 L2028.5 700.2 L2027.8 704.2 L2027.1 708.2 L2026.4 712.1 L2025.7 716.1 L2025.1 720.1 L2024.4 724.1 L2023.7 728.0 L2023.0 732.0 L2022.3 736.0 L2021.6 740.0 L2021.0 744.0 L2020.3 747.9 L2019.6 751.9 L2018.9 755.9 L2018.2 759.9 L2017.5 763.8 L2016.8 767.8 L2016.1 771.8 L2015.4 775.8 L2014.7 779.7 L2014.0 783.7 L2013.3 787.7 L2012.6 791.7 L2011.9 795.6 L2011.1 799.6 L2010.4 803.6 L2009.7 807.6 L2009.0 811.5 L2008.3 815.5 L2007.5 819.5 L2006.8 823.4 L2006.1 827.4 L2005.3 831.4 L2004.6 835.3 L2003.8 839.3 L2003.1 843.3 L2002.4 847.2 L2001.6 851.2 L2000.8 855.2 L2000.1 859.1 L1999.3 863.1 L1998.6 867.0 L1997.8 871.0 L1997.0 875.0 L1996.2 878.9 L1995.5 882.9 L1994.7 886.8 L1993.9 890.8 L1993.1 894.7 L1992.3 898.7 L1991.5 902.6 L1990.7 906.6 L1989.9 910.6 L1989.1 914.5 L1988.2 918.4 L1987.4 922.4 L1986.6 926.3 L1985.8 930.3 L1984.9 934.2 L1984.1 938.2 L1983.2 942.1 L1982.4 946.1 L1981.5 950.0 L1980.7 953.9 L1979.8 957.9 L1978.9 961.8 L1978.0 965.8 L1977.2 969.7 L1976.3 973.6 L1975.4 977.6 L1974.5 981.5 L1973.6 985.4 L1972.6 989.3 L1971.7 993.3 L1970.8 997.2 L1969.9 1001.1 L1968.9 1005.1 L1968.0 1009.0 L1967.1 1012.9 L1966.1 1016.8 L1965.1 1020.7 L1964.2 1024.6 L1963.2 1028.6 L1962.2 1032.5 L1961.2 1036.4 L1960.2 1040.3 L1959.2 1044.2 L1958.2 1048.1 L1957.2 1052.0 L1956.2 1055.9 L1955.2 1059.8 L1954.1 1063.7 L1953.1 1067.6 L1952.0 1071.5 L1951.0 1075.4 L1948.7 1079.0" fill="none" stroke="#ed1c24" stroke-width="10" stroke-linejoin="round" stroke-linecap="round"/><path d="M425.9 1478.7 L426.2 1474.7 L426.9 1470.8 L427.6 1466.8 L428.2 1462.8 L428.9 1458.9 L429.6 1454.9 L430.3 1451.0 L431.0 1447.0 L431.7 1443.0 L432.4 1439.1 L433.0 1435.1 L433.7 1431.2 L434.4 1427.2 L435.1 1423.2 L435.7 1419.3 L436.4 1415.3 L437.1 1411.4 L437.7 1407.4 L438.4 1403.4 L439.1 1399.5 L439.7 1395.5 L440.4 1391.6 L441.1 1387.6 L441.7 1383.6 L442.4 1379.7 L443.0 1375.7 L443.7 1371.8 L444.3 1367.8 L445.0 1363.8 L445.6 1359.9 L446.3 1355.9 L446.9 1351.9 L447.6 1348.0 L448.2 1344.0 L448.9 1340.1 L449.5 1336.1 L450.2 1332.1 L450.8 1328.2 L451.4 1324.2 L452.1 1320.3 L452.7 1316.3 L453.4 1312.3 L454.0 1308.4 L454.6 1304.4 L455.3 1300.4 L455.9 1296.5 L456.5 1292.5 L457.2 1288.6 L457.8 1284.6 L458.4 1280.6 L459.0 1276.7 L459.7 1272.7 L460.3 1268.8 L460.9 1264.8 L461.6 1260.8 L462.2 1256.9 L462.8 1252.9 L463.4 1248.9 L464.1 1245.0 L464.7 1241.0 L465.3 1237.1 L465.9 1233.1 L466.6 1229.1 L467.2 1225.2 L467.8 1221.2 L468.4 1217.2 L469.0 1213.3 L469.7 1209.3 L470.3 1205.4 L470.9 1201.4 L471.5 1197.4 L472.1 1193.5 L472.8 1189.5 L473.4 1185.5 L474.0 1181.6 L474.6 1177.6 L475.3 1173.7 L475.9 1169.7 L476.5 1165.7 L477.1 1161.8 L477.7 1157.8 L478.4 1153.8 L479.0 1149.9 L479.6 1145.9 L480.2 1142.0 L480.8 1138.0 L481.5 1134.0 L482.1 1130.1 L482.7 1126.1 L483.3 1122.2 L484.0 1118.2 L484.6 1114.2 L485.2 1110.3 L485.8 1106.3 L486.5 1102.3 L487.1 1098.4 L487.7 1094.4 L488.3 1090.5 L489.0 1086.5 L489.6 1082.5 L490.2 1078.6 L490.9 1074.6 L491.5 1070.6 L492.1 1066.7 L492.8 1062.7 L493.4 1058.8 L494.0 1054.8 L494.7 1050.8 L495.3 1046.9 L495.9 1042.9 L496.6 1039.0 L497.2 1035.0 L497.9 1031.0 L498.5 1027.1 L499.1 1023.1 L499.8 1019.2 L500.4 1015.2 L501.1 1011.2 L501.7 1007.3 L502.4 1003.3 L503.0 999.4 L503.7 995.4 L504.3 991.4 L505.0 987.5 L505.6 983.5 L506.3 979.6 L506.9 975.6 L507.6 971.6 L508.3 967.7 L508.9 963.7 L509.6 959.8 L510.3 955.8 L510.9 951.8 L511.6 947.9 L512.3 943.9 L512.9 940.0 L513.6 936.0 L514.3 932.0 L515.0 928.1 L515.6 924.1 L516.3 920.2 L517.0 916.2 L517.7 912.2 L518.4 908.3 L519.1 904.3 L519.8 900.4 L520.4 896.4 L521.1 892.5 L521.8 888.5 L522.5 884.5 L523.2 880.6 L523.9 876.6 L524.6 872.7 L525.4 868.7 L526.1 864.8 L526.8 860.8 L527.5 856.9 L528.2 852.9 L529.0 849.0 L529.7 845.0 L530.4 841.1 L531.2 837.1 L531.9 833.2 L532.7 829.2 L533.4 825.3 L534.2 821.3 L535.0 817.4 L535.7 813.4 L536.5 809.5 L537.3 805.6 L538.1 801.6 L538.9 797.7 L539.7 793.8 L540.5 789.8 L541.3 785.9 L542.2 782.0 L543.0 778.0 L543.8 774.1 L544.7 770.2 L545.6 766.3 L546.4 762.4 L547.3 758.5 L548.2 754.5 L549.1 750.6 L550.0 746.7 L550.9 742.8 L551.8 738.9 L552.7 735.0 L553.7 731.1 L554.6 727.2 L555.6 723.3 L556.5 719.5 L557.5 715.6 L558.5 711.7 L559.5 707.8 L560.5 703.9 L561.5 700.1 L562.5 696.2 L563.6 692.3 L564.6 688.5 L565.7 684.6 L566.8 680.8 L567.8 676.9 L568.9 673.1 L570.1 669.2 L571.2 665.4 L572.3 661.5 L573.5 657.7 L574.6 653.9 L575.8 650.1 L577.0 646.2 L578.2 642.4 L579.4 638.6 L580.6 634.8 L581.9 631.0 L583.1 627.2 L584.4 623.4 L585.7 619.6 L587.0 615.9 L588.3 612.1 L589.7 608.3 L591.0 604.5 L592.4 600.8 L593.7 597.0 L595.1 593.3 L596.6 589.5 L598.0 585.8 L599.4 582.0 L600.9 578.3 L602.4 574.6 L603.9 570.9 L605.4 567.1 L606.9 563.4 L608.4 559.7 L610.0 556.0 L611.6 552.3 L613.2 548.6 L614.8 545.0 L616.4 541.3 L618.1 537.6 L619.8 534.0 L621.5 530.3 L623.2 526.7 L624.9 523.0 L626.7 519.4 L628.4 515.8 L630.2 512.1 L632.0 508.5 L633.8 505.0 L635.7 501.4 L637.6 497.8 L639.4 494.2 L641.4 490.7 L643.3 487.1 L645.2 483.6 L647.2 480.1 L649.2 476.6 L651.2 473.1 L653.2 469.6 L655.3 466.1 L657.4 462.7 L659.5 459.2 L661.6 455.8 L663.7 452.4 L665.9 449.0 L668.1 445.6 L670.3 442.3 L672.5 438.9 L674.7 435.6 L677.0 432.3 L679.3 429.0 L681.6 425.7 L684.0 422.4 L686.3 419.2 L688.7 415.9 L691.1 412.7 L693.6 409.5 L696.0 406.4 L698.5 403.2 L701.0 400.1 L703.6 396.9 L706.1 393.8 L708.7 390.8 L711.3 387.7 L713.9 384.7 L716.6 381.7 L719.3 378.7 L722.0 375.7 L724.7 372.8 L727.4 369.9 L730.2 367.0 L733.0 364.1 L735.8 361.2 L738.7 358.4 L741.5 355.6 L744.4 352.9 L747.3 350.1 L750.3 347.4 L753.2 344.7 L756.2 342.1 L759.2 339.4 L762.2 336.8 L765.3 334.2 L768.4 331.7 L771.5 329.2 L774.6 326.7 L777.7 324.2 L780.9 321.8 L784.1 319.4 L787.3 317.0 L790.5 314.7 L793.7 312.4 L797.0 310.1 L800.3 307.9 L803.6 305.7 L807.0 303.5 L810.3 301.4 L813.7 299.3 L817.1 297.2 L820.5 295.2 L824.0 293.2 L827.5 291.3 L830.9 289.3 L834.4 287.5 L838.0 285.6 L841.5 283.8 L845.1 282.0 L848.7 280.2 L852.3 278.5 L855.9 276.8 L859.5 275.1 L863.2 273.5 L866.8 271.9 L870.5 270.3 L874.2 268.7 L877.9 267.2 L881.6 265.7 L885.4 264.2 L889.1 262.8 L892.9 261.3 L896.6 259.9 L900.4 258.6 L904.2 257.2 L908.0 255.9 L911.8 254.6 L915.7 253.3 L919.5 252.0 L923.4 250.8 L927.2 249.6 L931.1 248.4 L934.9 247.2 L938.8 246.0 L942.7 244.9 L946.6 243.7 L950.5 242.6 L954.4 241.5 L958.3 240.4 L962.2 239.4 L966.1 238.3 L970.1 237.3 L974.0 236.3 L977.9 235.3 L981.8 234.3 L985.8 233.3 L989.7 232.3 L993.6 231.4 L997.6 230.4 L1001.5 229.5 L1005.4 228.6 L1009.4 227.6 L1013.3 226.7 L1017.2 225.8 L1021.2 224.9 L1025.1 224.0 L1029.0 223.2 L1032.9 222.3 L1036.8 221.4 L1040.8 220.6 L1044.7 219.7 L1048.6 218.9 L1052.5 218.1 L1056.4 217.2 L1060.3 216.4 L1064.3 215.6 L1068.2 214.8 L1072.1 214.0 L1076.0 213.2 L1079.9 212.5 L1083.8 211.7 L1087.7 210.9 L1091.7 210.2 L1095.6 209.4 L1099.5 208.7 L1103.4 207.9 L1107.3 207.2 L1111.2 206.5 L1115.2 205.8 L1119.1 205.1 L1123.0 204.4 L1126.9 203.7 L1130.9 203.0 L1134.8 202.3 L1138.7 201.7 L1142.7 201.0 L1146.6 200.4 L1150.5 199.7 L1154.5 199.1 L1158.4 198.4 L1162.4 197.8 L1166.5 197.2 M1166.5 197.2 L1166.2 201.2 L1165.5 205.1 L1164.8 209.1 L1164.2 213.1 L1163.5 217.0 L1162.8 221.0 L1162.1 224.9 L1161.4 228.9 L1160.7 232.9 L1160.0 236.8 L1159.4 240.8 L1158.7 244.7 L1158.0 248.7 L1157.3 252.7 L1156.7 256.6 L1156.0 260.6 L1155.3 264.5 L1154.7 268.5 L1154.0 272.5 L1153.3 276.4 L1152.7 280.4 L1152.0 284.3 L1151.3 288.3 L1150.7 292.3 L1150.0 296.2 L1149.4 300.2 L1148.7 304.1 L1148.1 308.1 L1147.4 312.1 L1146.8 316.0 L1146.1 320.0 L1145.5 324.0 L1144.8 327.9 L1144.2 331.9 L1143.5 335.8 L1142.9 339.8 L1142.2 343.8 L1141.6 347.7 L1141.0 351.7 L1140.3 355.6 L1139.7 359.6 L1139.0 363.6 L1138.4 367.5 L1137.8 371.5 L1137.1 375.5 L1136.5 379.4 L1135.9 383.4 L1135.2 387.3 L1134.6 391.3 L1134.0 395.3 L1133.4 399.2 L1132.7 403.2 L1132.1 407.1 L1131.5 411.1 L1130.8 415.1 L1130.2 419.0 L1129.6 423.0 L1129.0 427.0 L1128.3 430.9 L1127.7 434.9 L1127.1 438.8 L1126.5 442.8 L1125.8 446.8 L1125.2 450.7 L1124.6 454.7 L1124.0 458.7 L1123.4 462.6 L1122.7 466.6 L1122.1 470.5 L1121.5 474.5 L1120.9 478.5 L1120.3 482.4 L1119.6 486.4 L1119.0 490.4 L1118.4 494.3 L1117.8 498.3 L1117.1 502.2 L1116.5 506.2 L1115.9 510.2 L1115.3 514.1 L1114.7 518.1 L1114.0 522.1 L1113.4 526.0 L1112.8 530.0 L1112.2 533.9 L1111.6 537.9 L1110.9 541.9 L1110.3 545.8 L1109.7 549.8 L1109.1 553.7 L1108.4 557.7 L1107.8 561.7 L1107.2 565.6 L1106.6 569.6 L1105.9 573.6 L1105.3 577.5 L1104.7 581.5 L1104.1 585.4 L1103.4 589.4 L1102.8 593.4 L1102.2 597.3 L1101.5 601.3 L1100.9 605.3 L1100.3 609.2 L1099.6 613.2 L1099.0 617.1 L1098.4 621.1 L1097.7 625.1 L1097.1 629.0 L1096.5 633.0 L1095.8 636.9 L1095.2 640.9 L1094.5 644.9 L1093.9 648.8 L1093.3 652.8 L1092.6 656.7 L1092.0 660.7 L1091.3 664.7 L1090.7 668.6 L1090.0 672.6 L1089.4 676.5 L1088.7 680.5 L1088.1 684.5 L1087.4 688.4 L1086.8 692.4 L1086.1 696.3 L1085.5 700.3 L1084.8 704.3 L1084.1 708.2 L1083.5 712.2 L1082.8 716.1 L1082.1 720.1 L1081.5 724.1 L1080.8 728.0 L1080.1 732.0 L1079.5 735.9 L1078.8 739.9 L1078.1 743.9 L1077.4 747.8 L1076.8 751.8 L1076.1 755.7 L1075.4 759.7 L1074.7 763.7 L1074.0 767.6 L1073.3 771.6 L1072.6 775.5 L1072.0 779.5 L1071.3 783.4 L1070.6 787.4 L1069.9 791.4 L1069.2 795.3 L1068.5 799.3 L1067.8 803.2 L1067.0 807.2 L1066.3 811.1 L1065.6 815.1 L1064.9 819.0 L1064.2 823.0 L1063.4 826.9 L1062.7 830.9 L1062.0 834.8 L1061.2 838.8 L1060.5 842.7 L1059.7 846.7 L1059.0 850.6 L1058.2 854.6 L1057.4 858.5 L1056.7 862.5 L1055.9 866.4 L1055.1 870.3 L1054.3 874.3 L1053.5 878.2 L1052.7 882.1 L1051.9 886.1 L1051.1 890.0 L1050.2 893.9 L1049.4 897.9 L1048.6 901.8 L1047.7 905.7 L1046.8 909.6 L1046.0 913.5 L1045.1 917.4 L1044.2 921.4 L1043.3 925.3 L1042.4 929.2 L1041.5 933.1 L1040.6 937.0 L1039.7 940.9 L1038.7 944.8 L1037.8 948.7 L1036.8 952.6 L1035.9 956.4 L1034.9 960.3 L1033.9 964.2 L1032.9 968.1 L1031.9 972.0 L1030.9 975.8 L1029.9 979.7 L1028.8 983.6 L1027.8 987.4 L1026.7 991.3 L1025.6 995.1 L1024.6 999.0 L1023.5 1002.8 L1022.3 1006.7 L1021.2 1010.5 L1020.1 1014.4 L1018.9 1018.2 L1017.8 1022.0 L1016.6 1025.8 L1015.4 1029.7 L1014.2 1033.5 L1013.0 1037.3 L1011.8 1041.1 L1010.5 1044.9 L1009.3 1048.7 L1008.0 1052.5 L1006.7 1056.3 L1005.4 1060.0 L1004.1 1063.8 L1002.7 1067.6 L1001.4 1071.4 L1000.0 1075.1 L998.7 1078.9 L997.3 1082.6 L995.8 1086.4 L994.4 1090.1 L993.0 1093.9 L991.5 1097.6 L990.0 1101.3 L988.5 1105.0 L987.0 1108.8 L985.5 1112.5 L984.0 1116.2 L982.4 1119.9 L980.8 1123.6 L979.2 1127.3 L977.6 1130.9 L976.0 1134.6 L974.3 1138.3 L972.6 1141.9 L970.9 1145.6 L969.2 1149.2 L967.5 1152.9 L965.7 1156.5 L964.0 1160.1 L962.2 1163.8 L960.4 1167.4 L958.6 1170.9 L956.7 1174.5 L954.8 1178.1 L953.0 1181.7 L951.0 1185.2 L949.1 1188.8 L947.2 1192.3 L945.2 1195.8 L943.2 1199.3 L941.2 1202.8 L939.2 1206.3 L937.1 1209.8 L935.0 1213.2 L932.9 1216.7 L930.8 1220.1 L928.7 1223.5 L926.5 1226.9 L924.3 1230.3 L922.1 1233.6 L919.9 1237.0 L917.7 1240.3 L915.4 1243.6 L913.1 1246.9 L910.8 1250.2 L908.4 1253.5 L906.1 1256.7 L903.7 1260.0 L901.3 1263.2 L898.8 1266.4 L896.4 1269.5 L893.9 1272.7 L891.4 1275.8 L888.8 1279.0 L886.3 1282.1 L883.7 1285.1 L881.1 1288.2 L878.5 1291.2 L875.8 1294.2 L873.1 1297.2 L870.4 1300.2 L867.7 1303.1 L865.0 1306.0 L862.2 1308.9 L859.4 1311.8 L856.6 1314.7 L853.7 1317.5 L850.9 1320.3 L848.0 1323.0 L845.1 1325.8 L842.1 1328.5 L839.2 1331.2 L836.2 1333.8 L833.2 1336.5 L830.2 1339.1 L827.1 1341.7 L824.0 1344.2 L820.9 1346.7 L817.8 1349.2 L814.7 1351.7 L811.5 1354.1 L808.3 1356.5 L805.1 1358.9 L801.9 1361.2 L798.7 1363.5 L795.4 1365.8 L792.1 1368.0 L788.8 1370.2 L785.4 1372.4 L782.1 1374.5 L778.7 1376.6 L775.3 1378.7 L771.9 1380.7 L768.4 1382.7 L764.9 1384.6 L761.5 1386.6 L758.0 1388.4 L754.4 1390.3 L750.9 1392.1 L747.3 1393.9 L743.7 1395.7 L740.1 1397.4 L736.5 1399.1 L732.9 1400.8 L729.2 1402.4 L725.6 1404.0 L721.9 1405.6 L718.2 1407.2 L714.5 1408.7 L710.8 1410.2 L707.0 1411.7 L703.3 1413.1 L699.5 1414.6 L695.8 1416.0 L692.0 1417.3 L688.2 1418.7 L684.4 1420.0 L680.6 1421.3 L676.7 1422.6 L672.9 1423.9 L669.0 1425.1 L665.2 1426.3 L661.3 1427.5 L657.5 1428.7 L653.6 1429.9 L649.7 1431.0 L645.8 1432.2 L641.9 1433.3 L638.0 1434.4 L634.1 1435.5 L630.2 1436.5 L626.3 1437.6 L622.3 1438.6 L618.4 1439.6 L614.5 1440.6 L610.6 1441.6 L606.6 1442.6 L602.7 1443.6 L598.8 1444.5 L594.8 1445.5 L590.9 1446.4 L587.0 1447.3 L583.0 1448.3 L579.1 1449.2 L575.2 1450.1 L571.2 1451.0 L567.3 1451.9 L563.4 1452.7 L559.5 1453.6 L555.6 1454.5 L551.6 1455.3 L547.7 1456.2 L543.8 1457.0 L539.9 1457.8 L536.0 1458.7 L532.1 1459.5 L528.1 1460.3 L524.2 1461.1 L520.3 1461.9 L516.4 1462.7 L512.5 1463.4 L508.6 1464.2 L504.7 1465.0 L500.7 1465.7 L496.8 1466.5 L492.9 1467.2 L489.0 1468.0 L485.1 1468.7 L481.2 1469.4 L477.2 1470.1 L473.3 1470.8 L469.4 1471.5 L465.5 1472.2 L461.5 1472.9 L457.6 1473.6 L453.7 1474.2 L449.7 1474.9 L445.8 1475.5 L441.9 1476.2 L437.9 1476.8 L434.0 1477.5 L430.0 1478.1 L425.9 1478.7" fill="none" stroke="#3953a4" stroke-width="10" stroke-linejoin="bevel" stroke-linecap="butt"/><path d="M611.0 1405.1 L611.3 1401.1 L611.8 1397.1 L612.5 1393.1 L613.2 1389.2 L613.9 1385.2 L614.7 1381.3 L615.6 1377.4 L616.4 1373.5 L617.3 1369.5 L618.2 1365.6 L619.0 1361.7 L619.8 1357.8 L620.6 1353.8 L621.4 1349.9 L622.1 1345.9 L622.9 1342.0 L623.6 1338.1 L624.2 1334.1 L624.9 1330.1 L625.5 1326.2 L626.1 1322.2 L626.7 1318.3 L627.3 1314.3 L627.9 1310.3 L628.5 1306.3 L629.0 1302.4 L629.6 1298.4 L630.1 1294.4 L630.6 1290.4 L631.2 1286.5 L631.7 1282.5 L632.2 1278.5 L632.7 1274.5 L633.3 1270.5 L633.8 1266.6 L634.4 1262.6 L634.9 1258.6 L635.5 1254.6 L636.0 1250.7 L636.6 1246.7 L637.2 1242.7 L637.7 1238.7 L638.3 1234.8 L638.9 1230.8 L639.5 1226.8 L640.1 1222.9 L640.7 1218.9 L641.3 1214.9 L641.9 1211.0 L642.5 1207.0 L643.1 1203.0 L643.8 1199.1 L644.4 1195.1 L645.0 1191.1 L645.6 1187.2 L646.3 1183.2 L646.9 1179.2 L647.5 1175.3 L648.2 1171.3 L648.8 1167.4 L649.5 1163.4 L650.1 1159.4 L650.7 1155.5 L651.4 1151.5 L652.0 1147.5 L652.7 1143.6 L653.3 1139.6 L654.0 1135.7 L654.6 1131.7 L655.3 1127.7 L655.9 1123.8 L656.6 1119.8 L657.2 1115.9 L657.9 1111.9 L658.5 1107.9 L659.2 1104.0 L659.8 1100.0 L660.5 1096.0 L661.1 1092.1 L661.8 1088.1 L662.4 1084.2 L663.1 1080.2 L663.7 1076.2 L664.3 1072.3 L665.0 1068.3 L665.6 1064.3 L666.2 1060.4 L666.9 1056.4 L667.5 1052.4 L668.1 1048.5 L668.8 1044.5 L669.4 1040.6 L670.0 1036.6 L670.6 1032.6 L671.2 1028.7 L671.9 1024.7 L672.5 1020.7 L673.1 1016.8 L673.7 1012.8 L674.3 1008.8 L675.0 1004.9 L675.6 1000.9 L676.2 996.9 L676.8 993.0 L677.4 989.0 L678.0 985.0 L678.7 981.1 L679.3 977.1 L679.9 973.1 L680.5 969.2 L681.1 965.2 L681.8 961.2 L682.4 957.3 L683.0 953.3 L683.6 949.4 L684.2 945.4 L684.9 941.4 L685.5 937.5 L686.1 933.5 L686.7 929.5 L687.4 925.6 L688.0 921.6 L688.6 917.6 L689.3 913.7 L689.9 909.7 L690.5 905.8 L691.2 901.8 L691.8 897.8 L692.5 893.9 L693.1 889.9 L693.7 885.9 L694.4 882.0 L695.0 878.0 L695.7 874.1 L696.4 870.1 L697.0 866.2 L697.7 862.2 L698.3 858.2 L699.0 854.3 L699.7 850.3 L700.4 846.4 L701.0 842.4 L701.7 838.5 L702.4 834.5 L703.1 830.5 L703.8 826.6 L704.5 822.6 L705.2 818.7 L705.9 814.7 L706.6 810.8 L707.3 806.8 L708.0 802.9 L708.7 798.9 L709.5 795.0 L710.2 791.0 L710.9 787.1 L711.7 783.1 L712.4 779.2 L713.1 775.3 L713.9 771.3 L714.6 767.4 L715.4 763.4 L716.2 759.5 L716.9 755.5 L717.7 751.6 L718.5 747.7 L719.3 743.7 L720.1 739.8 L720.9 735.9 L721.7 731.9 L722.5 728.0 L723.3 724.1 L724.1 720.1 L725.0 716.2 L725.8 712.3 L726.6 708.3 L727.5 704.4 L728.3 700.5 L729.2 696.5 L730.1 692.6 L730.9 688.7 L731.8 684.8 L732.7 680.9 L733.6 676.9 L734.5 673.0 L735.4 669.1 L736.4 665.2 L737.3 661.3 L738.3 657.4 L739.2 653.5 L740.2 649.6 L741.2 645.7 L742.2 641.8 L743.2 637.9 L744.2 634.0 L745.2 630.2 L746.2 626.3 L747.3 622.4 L748.4 618.5 L749.4 614.7 L750.5 610.8 L751.6 607.0 L752.8 603.1 L753.9 599.3 L755.1 595.4 L756.2 591.6 L757.4 587.8 L758.6 584.0 L759.8 580.1 L761.1 576.3 L762.3 572.5 L763.6 568.7 L764.9 564.9 L766.2 561.2 L767.5 557.4 L768.9 553.6 L770.2 549.9 L771.6 546.1 L773.0 542.4 L774.4 538.6 L775.9 534.9 L777.3 531.2 L778.8 527.4 L780.3 523.7 L781.8 520.0 L783.4 516.4 L785.0 512.7 L786.6 509.0 L788.2 505.3 L789.8 501.7 L791.5 498.0 L793.2 494.4 L794.9 490.8 L796.6 487.2 L798.4 483.6 L800.2 480.0 L802.0 476.4 L803.8 472.8 L805.7 469.3 L807.5 465.7 L809.5 462.2 L811.4 458.6 L813.3 455.1 L815.3 451.6 L817.3 448.1 L819.3 444.6 L821.4 441.1 L823.4 437.7 L825.5 434.2 L827.6 430.8 L829.7 427.3 L831.8 423.9 L834.0 420.5 L836.2 417.1 L838.3 413.7 L840.5 410.3 L842.7 406.9 L845.0 403.6 L847.2 400.2 L849.5 396.9 L851.7 393.6 L854.0 390.3 L856.3 387.0 L858.6 383.7 L860.9 380.4 L863.3 377.2 L865.7 373.9 L868.1 370.7 L870.5 367.5 L872.9 364.4 L875.4 361.2 L877.8 358.1 L880.4 355.0 L882.9 351.9 L885.5 348.9 L888.1 345.8 L890.7 342.8 L893.4 339.9 L896.1 336.9 L898.8 334.0 L901.6 331.2 L904.4 328.3 L907.2 325.5 L910.1 322.8 L913.0 320.0 L916.0 317.4 L919.0 314.7 L922.0 312.1 L925.1 309.5 L928.2 307.0 L931.4 304.5 L934.6 302.1 L937.9 299.6 L941.1 297.3 L944.4 294.9 L947.7 292.6 L951.1 290.3 L954.4 288.0 L957.7 285.7 L961.1 283.5 L964.4 281.2 L967.8 279.0 L971.1 276.8 L974.4 274.6 L977.7 272.4 L981.0 270.2 M981.0 270.2 L980.6 274.2 L979.8 278.2 L979.0 282.1 L978.2 286.1 L977.5 290.0 L976.7 294.0 L976.0 297.9 L975.2 301.9 L974.5 305.8 L973.8 309.8 L973.1 313.7 L972.4 317.7 L971.7 321.7 L971.0 325.6 L970.3 329.6 L969.7 333.6 L969.0 337.5 L968.3 341.5 L967.7 345.5 L967.0 349.4 L966.4 353.4 L965.8 357.4 L965.1 361.3 L964.5 365.3 L963.9 369.3 L963.3 373.3 L962.6 377.2 L962.0 381.2 L961.4 385.2 L960.8 389.2 L960.2 393.1 L959.6 397.1 L959.0 401.1 L958.4 405.1 L957.8 409.0 L957.2 413.0 L956.6 417.0 L956.0 421.0 L955.4 425.0 L954.8 428.9 L954.2 432.9 L953.6 436.9 L953.0 440.9 L952.4 444.9 L951.8 448.8 L951.2 452.8 L950.6 456.8 L950.0 460.8 L949.4 464.8 L948.8 468.7 L948.3 472.7 L947.7 476.7 L947.1 480.7 L946.5 484.7 L945.9 488.6 L945.3 492.6 L944.7 496.6 L944.1 500.6 L943.5 504.6 L942.9 508.5 L942.3 512.5 L941.7 516.5 L941.1 520.5 L940.5 524.5 L939.9 528.4 L939.3 532.4 L938.7 536.4 L938.1 540.4 L937.5 544.4 L936.8 548.3 L936.2 552.3 L935.6 556.3 L935.0 560.3 L934.4 564.2 L933.8 568.2 L933.2 572.2 L932.5 576.2 L931.9 580.2 L931.3 584.1 L930.7 588.1 L930.0 592.1 L929.4 596.1 L928.8 600.0 L928.2 604.0 L927.5 608.0 L926.9 611.9 L926.2 615.9 L925.6 619.9 L925.0 623.9 L924.3 627.8 L923.7 631.8 L923.0 635.8 L922.4 639.8 L921.7 643.7 L921.1 647.7 L920.4 651.7 L919.8 655.6 L919.1 659.6 L918.4 663.6 L917.8 667.5 L917.1 671.5 L916.5 675.5 L915.8 679.5 L915.2 683.4 L914.5 687.4 L913.8 691.4 L913.2 695.3 L912.5 699.3 L911.8 703.3 L911.2 707.2 L910.5 711.2 L909.9 715.2 L909.2 719.1 L908.5 723.1 L907.9 727.1 L907.2 731.0 L906.5 735.0 L905.9 739.0 L905.2 743.0 L904.6 746.9 L903.9 750.9 L903.2 754.9 L902.6 758.8 L901.9 762.8 L901.3 766.8 L900.6 770.7 L899.9 774.7 L899.3 778.7 L898.6 782.6 L898.0 786.6 L897.3 790.6 L896.7 794.6 L896.0 798.5 L895.4 802.5 L894.7 806.5 L894.1 810.4 L893.4 814.4 L892.8 818.4 L892.1 822.4 L891.5 826.3 L890.8 830.3 L890.2 834.3 L889.5 838.2 L888.9 842.2 L888.2 846.2 L887.5 850.1 L886.9 854.1 L886.2 858.1 L885.5 862.0 L884.9 866.0 L884.2 870.0 L883.5 873.9 L882.8 877.9 L882.1 881.9 L881.4 885.8 L880.7 889.8 L880.0 893.8 L879.3 897.7 L878.6 901.7 L877.9 905.7 L877.2 909.6 L876.5 913.6 L875.7 917.5 L875.0 921.5 L874.2 925.4 L873.5 929.4 L872.7 933.4 L872.0 937.3 L871.2 941.3 L870.4 945.2 L869.6 949.2 L868.8 953.1 L868.0 957.1 L867.2 961.0 L866.4 964.9 L865.6 968.9 L864.7 972.8 L863.9 976.8 L863.0 980.7 L862.1 984.6 L861.3 988.6 L860.4 992.5 L859.5 996.4 L858.6 1000.4 L857.6 1004.3 L856.7 1008.2 L855.8 1012.1 L854.8 1016.1 L853.8 1020.0 L852.9 1023.9 L851.9 1027.8 L850.9 1031.7 L849.9 1035.6 L848.8 1039.5 L847.8 1043.4 L846.7 1047.2 L845.6 1051.1 L844.6 1055.0 L843.4 1058.9 L842.3 1062.7 L841.2 1066.6 L840.0 1070.5 L838.9 1074.3 L837.7 1078.1 L836.5 1082.0 L835.3 1085.8 L834.1 1089.6 L832.8 1093.5 L831.6 1097.3 L830.3 1101.1 L829.0 1104.9 L827.7 1108.7 L826.3 1112.5 L825.0 1116.2 L823.6 1120.0 L822.2 1123.8 L820.8 1127.5 L819.4 1131.3 L817.9 1135.0 L816.4 1138.7 L814.9 1142.5 L813.4 1146.2 L811.9 1149.9 L810.4 1153.6 L808.8 1157.3 L807.2 1161.0 L805.6 1164.6 L803.9 1168.3 L802.3 1171.9 L800.6 1175.6 L798.9 1179.2 L797.1 1182.8 L795.4 1186.4 L793.6 1190.0 L791.8 1193.6 L790.0 1197.2 L788.1 1200.8 L786.2 1204.3 L784.3 1207.9 L782.4 1211.4 L780.5 1214.9 L778.5 1218.5 L776.5 1222.0 L774.5 1225.5 L772.5 1228.9 L770.4 1232.4 L768.3 1235.9 L766.2 1239.3 L764.1 1242.7 L762.0 1246.2 L759.8 1249.6 L757.6 1253.0 L755.4 1256.3 L753.2 1259.7 L751.0 1263.1 L748.7 1266.4 L746.4 1269.8 L744.1 1273.1 L741.8 1276.4 L739.5 1279.7 L737.2 1283.0 L734.8 1286.2 L732.4 1289.5 L730.0 1292.7 L727.6 1296.0 L725.1 1299.2 L722.7 1302.4 L720.2 1305.5 L717.7 1308.7 L715.1 1311.8 L712.6 1315.0 L710.0 1318.1 L707.4 1321.1 L704.8 1324.2 L702.2 1327.2 L699.5 1330.2 L696.8 1333.2 L694.1 1336.2 L691.4 1339.1 L688.7 1342.1 L685.9 1345.0 L683.1 1347.8 L680.3 1350.7 L677.4 1353.5 L674.5 1356.3 L671.6 1359.0 L668.7 1361.8 L665.7 1364.5 L662.8 1367.1 L659.7 1369.8 L656.7 1372.4 L653.6 1374.9 L650.6 1377.5 L647.4 1380.0 L644.3 1382.5 L641.1 1384.9 L637.9 1387.3 L634.7 1389.7 L631.4 1392.0 L628.1 1394.3 L624.8 1396.6 L621.4 1398.8 L618.0 1401.0 L614.6 1403.1 L611.0 1405.1" fill="none" stroke="#3953a4" stroke-width="10" stroke-linejoin="bevel" stroke-linecap="butt"/><path d="M1947.0 1134.0 L1947.5 1129.9 L1948.2 1126.0 L1948.9 1122.0 L1949.7 1118.1 L1950.4 1114.1 L1951.1 1110.2 L1951.9 1106.2 L1952.6 1102.3 L1953.3 1098.3 L1954.0 1094.3 L1954.7 1090.4 L1955.4 1086.4 L1956.1 1082.5 L1956.8 1078.5 L1957.5 1074.5 L1958.2 1070.6 L1958.9 1066.6 L1959.6 1062.6 L1960.3 1058.7 L1961.0 1054.7 L1961.7 1050.7 L1962.3 1046.8 L1963.0 1042.8 L1963.7 1038.8 L1964.3 1034.9 L1965.0 1030.9 L1965.7 1026.9 L1966.3 1022.9 L1967.0 1019.0 L1967.7 1015.0 L1968.3 1011.0 L1969.0 1007.1 L1969.6 1003.1 L1970.3 999.1 L1970.9 995.1 L1971.6 991.2 L1972.2 987.2 L1972.8 983.2 L1973.5 979.2 L1974.1 975.2 L1974.8 971.3 L1975.4 967.3 L1976.0 963.3 L1976.7 959.3 L1977.3 955.4 L1977.9 951.4 L1978.5 947.4 L1979.2 943.4 L1979.8 939.4 L1980.4 935.4 L1981.0 931.5 L1981.7 927.5 L1982.3 923.5 L1982.9 919.5 L1983.5 915.5 L1984.1 911.6 L1984.8 907.6 L1985.4 903.6 L1986.0 899.6 L1986.6 895.6 L1987.2 891.6 L1987.8 887.7 L1988.4 883.7 L1989.1 879.7 L1989.7 875.7 L1990.3 871.7 L1990.9 867.7 L1991.5 863.8 L1992.1 859.8 L1992.7 855.8 L1993.3 851.8 L1993.9 847.8 L1994.6 843.8 L1995.2 839.8 L1995.8 835.9 L1996.4 831.9 L1997.0 827.9 L1997.6 823.9 L1998.2 819.9 L1998.8 815.9 L1999.5 812.0 L2000.1 808.0 L2000.7 804.0 L2001.3 800.0 L2001.9 796.0 L2002.5 792.0 L2003.1 788.1 L2003.8 784.1 L2004.4 780.1 L2005.0 776.1 L2005.6 772.1 L2006.2 768.1 L2006.9 764.2 L2007.5 760.2 L2008.1 756.2 L2008.7 752.2 L2009.4 748.2 L2010.0 744.3 L2010.6 740.3 L2011.3 736.3 L2011.9 732.3 L2012.5 728.3 L2013.2 724.4 L2013.8 720.4 L2014.5 716.4 L2015.1 712.4 L2015.7 708.4 L2016.4 704.5 L2017.0 700.5 L2017.7 696.5 L2018.3 692.5 L2019.0 688.6 L2019.7 684.6 L2020.3 680.6 L2021.0 676.6 L2021.6 672.7 L2022.3 668.7 L2023.0 664.7 L2023.7 660.7 L2024.3 656.8 L2025.0 652.8 L2025.7 648.8 L2026.4 644.9 L2027.0 640.9 L2027.7 636.9 L2028.4 633.0 L2029.1 629.0 L2029.8 625.0 L2030.5 621.1 L2031.2 617.1 L2031.9 613.1 L2032.6 609.2 L2033.3 605.2 L2034.1 601.2 L2034.8 597.3 L2035.5 593.3 L2036.2 589.4 L2037.0 585.4 L2037.7 581.4 L2038.4 577.5 L2039.2 573.5 L2039.9 569.6 L2040.7 565.6 L2041.4 561.7 L2042.2 557.7 L2042.9 553.8 L2043.7 549.8 L2044.5 545.9 L2045.2 541.9 L2046.0 538.0 L2046.8 534.0 L2047.6 530.1 L2048.4 526.1 L2049.2 522.2 L2050.0 518.2 L2050.8 514.3 L2051.6 510.3 L2052.4 506.4 L2053.2 502.5 L2054.0 498.5 L2054.8 494.6 L2055.7 490.6 L2056.5 486.7 L2057.4 482.8 L2058.2 478.8 L2059.1 474.9 L2059.9 471.0 L2060.8 467.0 L2061.6 463.1 L2062.5 459.2 L2063.4 455.3 L2064.3 451.3 L2065.2 447.4 L2066.0 443.5 L2066.9 439.6 L2067.9 435.6 L2068.8 431.7 L2069.7 427.8 L2070.6 423.9 L2071.5 420.0 L2072.5 416.1 L2073.4 412.1 L2074.3 408.2 L2075.3 404.3 L2076.2 400.4 L2077.2 396.5 L2078.2 392.6 L2079.2 388.7 L2080.1 384.8 L2081.1 380.9 L2082.1 377.0 L2083.1 373.1 L2084.1 369.2 L2085.1 365.3 L2086.2 361.4 L2087.2 357.5 L2088.2 353.6 L2089.3 349.7 L2090.3 345.8 L2091.4 341.9 L2092.4 338.1 L2093.5 334.2 L2096.5 331.0 M2096.5 331.0 L2095.5 334.9 L2095.1 338.9 L2094.6 342.9 L2094.1 346.9 L2093.6 350.9 L2093.1 354.9 L2092.5 359.0 L2092.0 363.0 L2091.5 367.0 L2091.0 371.0 L2090.4 375.0 L2089.9 379.0 L2089.3 383.0 L2088.8 387.0 L2088.2 391.0 L2087.7 395.0 L2087.1 399.0 L2086.5 403.0 L2086.0 406.9 L2085.4 410.9 L2084.8 414.9 L2084.2 418.9 L2083.6 422.9 L2083.0 426.9 L2082.4 430.9 L2081.8 434.9 L2081.2 438.9 L2080.6 442.8 L2080.0 446.8 L2079.4 450.8 L2078.8 454.8 L2078.1 458.8 L2077.5 462.8 L2076.9 466.7 L2076.3 470.7 L2075.6 474.7 L2075.0 478.7 L2074.3 482.7 L2073.7 486.6 L2073.0 490.6 L2072.4 494.6 L2071.7 498.6 L2071.1 502.5 L2070.4 506.5 L2069.8 510.5 L2069.1 514.5 L2068.4 518.4 L2067.8 522.4 L2067.1 526.4 L2066.5 530.3 L2065.8 534.3 L2065.1 538.3 L2064.4 542.3 L2063.8 546.2 L2063.1 550.2 L2062.4 554.2 L2061.7 558.1 L2061.1 562.1 L2060.4 566.1 L2059.7 570.1 L2059.0 574.0 L2058.3 578.0 L2057.7 582.0 L2057.0 585.9 L2056.3 589.9 L2055.6 593.9 L2054.9 597.8 L2054.2 601.8 L2053.6 605.8 L2052.9 609.8 L2052.2 613.7 L2051.5 617.7 L2050.8 621.7 L2050.1 625.6 L2049.5 629.6 L2048.8 633.6 L2048.1 637.6 L2047.4 641.5 L2046.7 645.5 L2046.1 649.5 L2045.4 653.4 L2044.7 657.4 L2044.0 661.4 L2043.4 665.4 L2042.7 669.3 L2042.0 673.3 L2041.4 677.3 L2040.7 681.3 L2040.0 685.3 L2039.4 689.2 L2038.7 693.2 L2038.0 697.2 L2037.4 701.2 L2036.7 705.1 L2036.1 709.1 L2035.4 713.1 L2034.8 717.1 L2034.1 721.1 L2033.5 725.1 L2032.9 729.0 L2032.2 733.0 L2031.6 737.0 L2030.9 741.0 L2030.3 745.0 L2029.7 749.0 L2029.0 753.0 L2028.4 757.0 L2027.8 760.9 L2027.2 764.9 L2026.5 768.9 L2025.9 772.9 L2025.3 776.9 L2024.6 780.9 L2024.0 784.9 L2023.4 788.9 L2022.7 792.8 L2022.1 796.8 L2021.5 800.8 L2020.9 804.8 L2020.2 808.8 L2019.6 812.8 L2019.0 816.8 L2018.3 820.8 L2017.7 824.8 L2017.0 828.7 L2016.4 832.7 L2015.8 836.7 L2015.1 840.7 L2014.5 844.7 L2013.8 848.7 L2013.2 852.7 L2012.5 856.6 L2011.9 860.6 L2011.2 864.6 L2010.5 868.6 L2009.9 872.6 L2009.2 876.6 L2008.5 880.5 L2007.9 884.5 L2007.2 888.5 L2006.5 892.5 L2005.8 896.4 L2005.1 900.4 L2004.4 904.4 L2003.7 908.4 L2003.0 912.3 L2002.3 916.3 L2001.6 920.3 L2000.9 924.3 L2000.2 928.2 L1999.5 932.2 L1998.7 936.2 L1998.0 940.1 L1997.3 944.1 L1996.5 948.0 L1995.8 952.0 L1995.0 956.0 L1994.2 959.9 L1993.5 963.9 L1992.7 967.8 L1991.9 971.8 L1991.1 975.7 L1990.3 979.7 L1989.5 983.6 L1988.7 987.6 L1987.9 991.5 L1987.1 995.5 L1986.3 999.4 L1985.4 1003.3 L1984.6 1007.3 L1983.7 1011.2 L1982.9 1015.1 L1982.0 1019.1 L1981.1 1023.0 L1980.2 1026.9 L1979.3 1030.8 L1978.4 1034.8 L1977.5 1038.7 L1976.6 1042.6 L1975.6 1046.5 L1974.7 1050.4 L1973.7 1054.3 L1972.7 1058.2 L1971.8 1062.1 L1970.7 1066.0 L1969.7 1069.9 L1968.7 1073.8 L1967.6 1077.6 L1966.5 1081.5 L1965.4 1085.3 L1964.3 1089.2 L1963.2 1093.0 L1962.0 1096.9 L1960.8 1100.7 L1959.6 1104.5 L1958.4 1108.4 L1957.1 1112.2 L1955.9 1116.0 L1954.6 1119.8 L1953.2 1123.5 L1951.9 1127.3 L1950.5 1131.1 L1947.0 1134.0" fill="none" stroke="#3953a4" stroke-width="10" stroke-linejoin="bevel" stroke-linecap="butt"/></g><g shape-rendering="crispEdges"><rect x="238.5" y="26.5" width="2043.0" height="1611.0" fill="none" stroke="#48494c" stroke-width="3"/><line x1="238.5" y1="1575.40" x2="260.0" y2="1575.40" stroke="#48494c" stroke-width="3"/><line x1="2260.0" y1="1575.40" x2="2281.5" y2="1575.40" stroke="#48494c" stroke-width="3"/><line x1="238.5" y1="1203.67" x2="260.0" y2="1203.67" stroke="#48494c" stroke-width="3"/><line x1="2260.0" y1="1203.67" x2="2281.5" y2="1203.67" stroke="#48494c" stroke-width="3"/><line x1="238.5" y1="831.95" x2="260.0" y2="831.95" stroke="#48494c" stroke-width="3"/><line x1="2260.0" y1="831.95" x2="2281.5" y2="831.95" stroke="#48494c" stroke-width="3"/><line x1="238.5" y1="460.23" x2="260.0" y2="460.23" stroke="#48494c" stroke-width="3"/><line x1="2260.0" y1="460.23" x2="2281.5" y2="460.23" stroke="#48494c" stroke-width="3"/><line x1="238.5" y1="88.50" x2="260.0" y2="88.50" stroke="#48494c" stroke-width="3"/><line x1="2260.0" y1="88.50" x2="2281.5" y2="88.50" stroke="#48494c" stroke-width="3"/><line x1="795.68" y1="26.5" x2="795.68" y2="48.0" stroke="#48494c" stroke-width="3"/><line x1="795.68" y1="1616.0" x2="795.68" y2="1637.5" stroke="#48494c" stroke-width="3"/><line x1="1538.59" y1="26.5" x2="1538.59" y2="48.0" stroke="#48494c" stroke-width="3"/><line x1="1538.59" y1="1616.0" x2="1538.59" y2="1637.5" stroke="#48494c" stroke-width="3"/></g><g font-family="'Liberation Serif', 'Times New Roman', serif" font-size="80" fill="#48494c" stroke="#48494c" stroke-width="1.0"><text x="213" y="115.5" text-anchor="end">600</text><text x="213" y="487.2" text-anchor="end">300</text><text x="213" y="859.0" text-anchor="end">0</text><text x="213" y="1230.7" text-anchor="end">–300</text><text x="213" y="1602.4" text-anchor="end">–600</text><text x="237.0" y="1735" text-anchor="middle">–0.015</text><text x="794.2" y="1735" text-anchor="middle">0</text><text x="1537.1" y="1735" text-anchor="middle">0.02</text><text x="2280.0" y="1735" text-anchor="middle">0.04</text></g><g font-family="'Liberation Serif', 'Times New Roman', serif" stroke="#231f20" stroke-width="1.0"><text x="1163" y="1777" font-size="87" fill="#231f20"><tspan font-style="italic">ε</tspan><tspan font-size="62.5" dy="22">tot</tspan></text><text transform="translate(83,916) rotate(-90)" font-size="87" fill="#231f20"><tspan font-style="italic">σ</tspan> (MPa)</text></g><g font-family="'Liberation Serif', 'Times New Roman', serif" stroke="#231f20" stroke-width="1.0"><rect x="1691" y="1424.7" width="556.5" height="178.3" fill="#ffffff" stroke="#231f20" stroke-width="3.5"/><line x1="1704" y1="1472" x2="1837" y2="1472" stroke="#ed1c24" stroke-width="10" shape-rendering="crispEdges"/><line x1="1704" y1="1556" x2="1837" y2="1556" stroke="#3953a4" stroke-width="10" shape-rendering="crispEdges"/><text x="1845" y="1496.2" font-size="71" fill="#231f20">Experimental</text><text x="1846" y="1581.6" font-size="71" fill="#231f20">Simulated 4<tspan font-family="'Noto Serif CJK JP', 'Liberation Serif', serif" font-style="italic" dx="6" font-size="62">χ</tspan></text></g></svg></body></html>
